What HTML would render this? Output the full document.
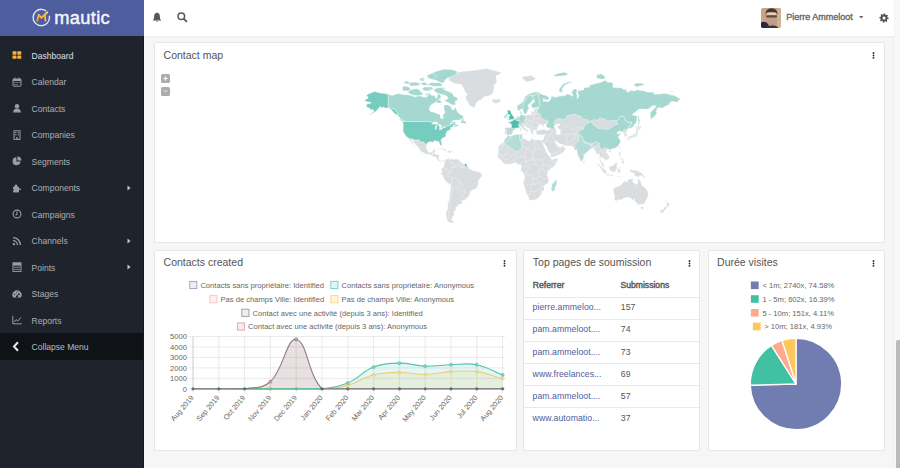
<!DOCTYPE html>
<html><head><meta charset="utf-8"><title>Mautic Dashboard</title><style>
*{margin:0;padding:0;box-sizing:border-box}
html,body{width:900px;height:468px;overflow:hidden;background:#f6f6f6}
body{position:relative;font-family:"Liberation Sans",sans-serif}
.t{position:absolute;white-space:nowrap;line-height:1}
.r{position:absolute}
svg{position:absolute;overflow:visible}
</style></head>
<body>
<div class="r" style="left:144px;top:0px;width:756px;height:468px;background:#f6f6f6;"></div>
<div class="r" style="left:893px;top:0px;width:7px;height:468px;background:#f8f8f8;"></div>
<div class="r" style="left:893px;top:0px;width:1px;height:468px;background:#efefef;"></div>
<div class="r" style="left:896px;top:340px;width:4px;height:128px;background:#bababa;border-radius:2px 0 0 0"></div>
<div class="r" style="left:144px;top:0px;width:750px;height:36px;background:#ffffff;box-shadow:0 1px 2px rgba(0,0,0,0.05)"></div>
<div class="r" style="left:154px;top:42px;width:731px;height:201px;background:#ffffff;border:1px solid #e6e6e6;border-radius:2px"></div>
<div class="r" style="left:154px;top:250px;width:363px;height:201px;background:#ffffff;border:1px solid #e6e6e6;border-radius:2px"></div>
<div class="r" style="left:523px;top:250px;width:177px;height:201px;background:#ffffff;border:1px solid #e6e6e6;border-radius:2px"></div>
<div class="r" style="left:708px;top:250px;width:177px;height:201px;background:#ffffff;border:1px solid #e6e6e6;border-radius:2px"></div>
<div class="r" style="left:0px;top:0px;width:144px;height:468px;background:#1f232b;"></div>
<div class="r" style="left:143px;top:36px;width:1px;height:432px;background:#14171c;"></div>
<div class="r" style="left:0px;top:0px;width:144px;height:36px;background:#4e5d9d;"></div>
<div class="r" style="left:0px;top:333px;width:143px;height:26.5px;background:#0f1216;"></div>
<svg style="left:0;top:0" width="144" height="36" viewBox="0 0 144 36">
<defs><linearGradient id="mg" x1="0" y1="1" x2="1" y2="0"><stop offset="0" stop-color="#f39c2c"/><stop offset="1" stop-color="#fcd45a"/></linearGradient></defs>
<circle cx="41.3" cy="17.5" r="8.2" fill="none" stroke="#e3e8f8" stroke-width="1.35" stroke-dasharray="43.2 5.9 2.4 0" transform="rotate(2 41.3 17.5)"/>
<path d="M37.3 20.9 L38.7 14.6 L41.3 17.9 L47.3 12.2" fill="none" stroke="url(#mg)" stroke-width="1.9" stroke-linejoin="round" stroke-linecap="round"/>
<path d="M44.7 15.2 L45.4 20.9" fill="none" stroke="url(#mg)" stroke-width="1.8" stroke-linecap="round"/>
</svg>
<div class="t" style="left:54.30px;top:8.61px;font-size:18.3px;color:#f4f5fb;letter-spacing:0.3px;-webkit-text-stroke:0.45px #f4f5fb;">mautic</div>
<div class="t" style="left:31.60px;top:51.66px;font-size:8.55px;color:#dfe1e4;">Dashboard</div>
<div class="t" style="left:31.60px;top:78.16px;font-size:8.55px;color:#abafb5;">Calendar</div>
<div class="t" style="left:31.60px;top:104.66px;font-size:8.55px;color:#abafb5;">Contacts</div>
<div class="t" style="left:31.60px;top:131.16px;font-size:8.55px;color:#abafb5;">Companies</div>
<div class="t" style="left:31.60px;top:157.66px;font-size:8.55px;color:#abafb5;">Segments</div>
<div class="t" style="left:31.60px;top:184.16px;font-size:8.55px;color:#abafb5;">Components</div>
<svg style="left:126px;top:184.7px" width="6" height="6"><path d="M1.5 0.6 L4.6 3 L1.5 5.4Z" fill="#c3c6cb"/></svg>
<div class="t" style="left:31.60px;top:210.66px;font-size:8.55px;color:#abafb5;">Campaigns</div>
<div class="t" style="left:31.60px;top:237.16px;font-size:8.55px;color:#abafb5;">Channels</div>
<svg style="left:126px;top:237.7px" width="6" height="6"><path d="M1.5 0.6 L4.6 3 L1.5 5.4Z" fill="#c3c6cb"/></svg>
<div class="t" style="left:31.60px;top:263.66px;font-size:8.55px;color:#abafb5;">Points</div>
<svg style="left:126px;top:264.2px" width="6" height="6"><path d="M1.5 0.6 L4.6 3 L1.5 5.4Z" fill="#c3c6cb"/></svg>
<div class="t" style="left:31.60px;top:290.16px;font-size:8.55px;color:#abafb5;">Stages</div>
<div class="t" style="left:31.60px;top:316.66px;font-size:8.55px;color:#abafb5;">Reports</div>
<div class="t" style="left:31.60px;top:342.66px;font-size:8.55px;color:#b9bdc2;">Collapse Menu</div>
<svg style="left:11.5px;top:50.2px" width="10" height="10" viewBox="0 0 10 10"><g fill="#f5b335"><rect x="0.5" y="1.3" width="4" height="3.4" rx="0.6"/><rect x="5.3" y="1.3" width="4" height="3.4" rx="0.6"/><rect x="0.5" y="5.4" width="4" height="3.4" rx="0.6"/><rect x="5.3" y="5.4" width="4" height="3.4" rx="0.6"/></g></svg>
<svg style="left:11.5px;top:76.7px" width="10" height="10" viewBox="0 0 10 10"><g fill="none" stroke="#999da4" stroke-width="1"><rect x="1" y="2" width="8" height="7.2" rx="0.8"/></g><rect x="1" y="2" width="8" height="2" fill="#999da4"/><g fill="#999da4"><rect x="2.4" y="0.6" width="1" height="2"/><rect x="6.6" y="0.6" width="1" height="2"/><rect x="2.3" y="5" width="1.2" height="1"/><rect x="4.4" y="5" width="1.2" height="1"/><rect x="6.5" y="5" width="1.2" height="1"/><rect x="2.3" y="7" width="1.2" height="1"/><rect x="4.4" y="7" width="1.2" height="1"/></g></svg>
<svg style="left:11.5px;top:103.2px" width="10" height="10" viewBox="0 0 10 10"><g fill="#999da4"><circle cx="5" cy="3.2" r="2.2"/><path d="M1.2 9.4 Q1.2 5.6 5 5.6 Q8.8 5.6 8.8 9.4Z"/></g></svg>
<svg style="left:11.5px;top:129.7px" width="10" height="10" viewBox="0 0 10 10"><g fill="none" stroke="#999da4" stroke-width="1"><rect x="2" y="0.8" width="6" height="8.6"/></g><g fill="#999da4"><rect x="3.2" y="2" width="1.2" height="1.2"/><rect x="5.6" y="2" width="1.2" height="1.2"/><rect x="3.2" y="4.2" width="1.2" height="1.2"/><rect x="5.6" y="4.2" width="1.2" height="1.2"/><rect x="4.3" y="7" width="1.4" height="2.4"/></g></svg>
<svg style="left:11.5px;top:156.2px" width="10" height="10" viewBox="0 0 10 10"><g fill="#999da4"><path d="M4.4 1.2 A4 4 0 1 0 8.6 5.6 L4.4 5.6Z"/><path d="M5.4 0.4 A4 4 0 0 1 9.4 4.4 L5.4 4.4Z"/></g></svg>
<svg style="left:11.5px;top:182.7px" width="10" height="10" viewBox="0 0 10 10"><g fill="#999da4"><rect x="1" y="4" width="6" height="5.4"/><circle cx="4" cy="3.2" r="1.6"/><rect x="7" y="5.6" width="2" height="1.2"/><rect x="0.2" y="6" width="1.5" height="1.5" fill="#1f232b"/></g></svg>
<svg style="left:11.5px;top:209.2px" width="10" height="10" viewBox="0 0 10 10"><g fill="none" stroke="#999da4" stroke-width="1.1"><circle cx="5" cy="5" r="3.9"/><path d="M5 2.6 V5.2 L3.6 6.4"/></g></svg>
<svg style="left:11.5px;top:235.7px" width="10" height="10" viewBox="0 0 10 10"><g fill="#999da4"><circle cx="1.9" cy="8.1" r="1.2"/></g><g fill="none" stroke="#999da4" stroke-width="1.3"><path d="M1 4.6 A4.4 4.4 0 0 1 5.4 9"/><path d="M1 1.6 A7.4 7.4 0 0 1 8.4 9"/></g></svg>
<svg style="left:11.5px;top:262.2px" width="10" height="10" viewBox="0 0 10 10"><g fill="none" stroke="#999da4" stroke-width="1"><rect x="1" y="0.8" width="8" height="8.6"/></g><rect x="1" y="0.8" width="8" height="2.8" fill="#999da4"/><g fill="#999da4"><rect x="2.2" y="4.6" width="1.4" height="1.2"/><rect x="4.3" y="4.6" width="1.4" height="1.2"/><rect x="6.4" y="4.6" width="1.4" height="1.2"/><rect x="2.2" y="6.8" width="1.4" height="1.2"/><rect x="4.3" y="6.8" width="1.4" height="1.2"/><rect x="6.4" y="6.8" width="1.4" height="1.2"/></g></svg>
<svg style="left:11.5px;top:288.7px" width="10" height="10" viewBox="0 0 10 10"><path d="M1.2 8.6 A4.6 4.6 0 1 1 8.8 8.6 Z" fill="#999da4"/><g fill="#1f232b"><circle cx="2.6" cy="5.4" r="0.6"/><circle cx="5" cy="3.1" r="0.6"/><circle cx="7.4" cy="5.4" r="0.6"/></g><path d="M5 7.6 L6.9 4.3" stroke="#1f232b" stroke-width="1"/><circle cx="5" cy="7.6" r="1.1" fill="#1f232b"/></svg>
<svg style="left:11.5px;top:315.2px" width="10" height="10" viewBox="0 0 10 10"><g fill="none" stroke="#999da4" stroke-width="1"><path d="M0.8 1 V8.8 H9.6"/><path d="M2 7.2 L4 4.6 L5.8 6 L8.8 2.4"/></g></svg>
<svg style="left:12px;top:340.5px" width="8" height="11" viewBox="0 0 8 11"><path d="M6 1.2 L2 5.5 L6 9.8" fill="none" stroke="#e8e9eb" stroke-width="2"/></svg>
<svg style="left:152px;top:11.5px" width="10" height="11" viewBox="0 0 10 11">
<path d="M5 0.8 C2.6 0.8 2.1 3 2.1 5 C2.1 7 1.2 8 0.6 8.6 H9.4 C8.8 8 7.9 7 7.9 5 C7.9 3 7.4 0.8 5 0.8Z" fill="#585858"/>
<path d="M3.9 9.2 A1.2 1.2 0 0 0 6.1 9.2Z" fill="#585858"/></svg>
<svg style="left:176.5px;top:12.2px" width="10.5" height="10.5" viewBox="0 0 10.5 10.5">
<circle cx="4.3" cy="4.3" r="3.3" fill="none" stroke="#585858" stroke-width="1.5"/>
<path d="M6.7 6.7 L9.4 9.4" stroke="#585858" stroke-width="1.8" stroke-linecap="round"/></svg>
<svg style="left:761px;top:7.5px" width="20" height="20" viewBox="0 0 20 20">
<defs><clipPath id="av"><rect width="20" height="20" rx="1.8"/></clipPath></defs>
<g clip-path="url(#av)">
<rect width="20" height="20" fill="#c6a588"/>
<rect x="16" y="0" width="4" height="20" fill="#cfb296"/>
<ellipse cx="10.5" cy="11.5" rx="5.8" ry="8" fill="#c99c88"/>
<path d="M4.5 7 Q4.2 0.5 10.5 0.3 Q16.8 0.5 16.5 7 L15.5 5.5 Q10.5 3.2 5.5 5.5Z" fill="#45372f"/>
<rect x="5.6" y="4.6" width="9.8" height="2.6" rx="1.2" fill="#e2d0bf"/>
<rect x="5.2" y="7.2" width="10.8" height="2.2" rx="0.8" fill="#5a493f"/>
<path d="M5.5 12 Q10.5 20 15.5 12 L15.5 17 L5.5 17Z" fill="#b39c90"/>
<path d="M0 14.5 Q4 12.5 7 16 L9 20 L0 20Z" fill="#2a2b30"/>
<path d="M6 18.5 Q12 16.5 17 19 L17 20 L6 20Z" fill="#3a3535"/>
</g></svg>
<div class="t" style="left:786.30px;top:13.18px;font-size:9px;color:#666;-webkit-text-stroke:0.35px #666;">Pierre Ammeloot</div>
<svg style="left:858.5px;top:16px" width="5" height="3"><path d="M0 0 H4.4 L2.2 2.6Z" fill="#666"/></svg>
<svg style="left:878.5px;top:12.8px" width="10" height="10" viewBox="0 0 10 10"><path d="M5.00 0.30 L5.92 0.39 L6.34 1.77 L6.94 2.09 L8.32 1.68 L8.91 2.39 L8.23 3.66 L8.43 4.32 L9.70 5.00 L9.61 5.92 L8.23 6.34 L7.91 6.94 L8.32 8.32 L7.61 8.91 L6.34 8.23 L5.68 8.43 L5.00 9.70 L4.08 9.61 L3.66 8.23 L3.06 7.91 L1.68 8.32 L1.09 7.61 L1.77 6.34 L1.57 5.68 L0.30 5.00 L0.39 4.08 L1.77 3.66 L2.09 3.06 L1.68 1.68 L2.39 1.09 L3.66 1.77 L4.32 1.57Z" fill="#555"/><circle cx="5" cy="5" r="1.5" fill="#fff"/></svg>
<svg style="left:871.8px;top:52.0px" width="3" height="7"><g fill="#333"><circle cx="1.5" cy="1" r="0.95"/><circle cx="1.5" cy="3.4" r="0.95"/><circle cx="1.5" cy="5.8" r="0.95"/></g></svg>
<svg style="left:503.2px;top:259.6px" width="3" height="7"><g fill="#333"><circle cx="1.5" cy="1" r="0.95"/><circle cx="1.5" cy="3.4" r="0.95"/><circle cx="1.5" cy="5.8" r="0.95"/></g></svg>
<svg style="left:687.9px;top:259.8px" width="3" height="7"><g fill="#333"><circle cx="1.5" cy="1" r="0.95"/><circle cx="1.5" cy="3.4" r="0.95"/><circle cx="1.5" cy="5.8" r="0.95"/></g></svg>
<svg style="left:872.3px;top:259.8px" width="3" height="7"><g fill="#333"><circle cx="1.5" cy="1" r="0.95"/><circle cx="1.5" cy="3.4" r="0.95"/><circle cx="1.5" cy="5.8" r="0.95"/></g></svg>
<div class="t" style="left:163.60px;top:49.51px;font-size:10.5px;color:#555;">Contact map</div>
<div class="t" style="left:163.60px;top:256.71px;font-size:10.5px;color:#555;">Contacts created</div>
<div class="t" style="left:532.80px;top:256.71px;font-size:10.5px;color:#555;">Top pages de soumission</div>
<div class="t" style="left:717.10px;top:256.71px;font-size:10.5px;color:#555;">Durée visites</div>
<div class="r" style="left:161px;top:74px;width:9px;height:9px;background:#acacac;border-radius:1.5px"></div>
<div class="r" style="left:161px;top:86.5px;width:9px;height:9px;background:#acacac;border-radius:1.5px"></div>
<svg style="left:161px;top:74px" width="9" height="22"><path d="M2.4 4.5 H6.6 M4.5 2.4 V6.6" stroke="#fff" stroke-width="1"/><path d="M2.4 17 H6.6" stroke="#e4e4e4" stroke-width="1"/></svg>
<svg style="left:0;top:0" width="900" height="468" viewBox="0 0 900 468"><path d="M507.8 135.4 L507.2 134.6 L506.2 134.2 L504.9 134.4 L505.0 132.6 L504.4 132.5 L505.1 130.5 L504.9 129.2 L504.5 127.9 L506.6 127.5 L509.2 127.7 L511.2 127.8 L511.6 126.5 L511.7 124.9 L510.8 123.6 L508.8 122.7 L508.6 122.1 L510.1 121.7 L511.3 121.9 L511.1 120.7 L511.9 121.0 L512.9 120.7 L514.2 119.3 L515.0 119.1 L515.7 118.7 L516.5 118.0 L517.0 116.8 L519.1 116.5 L520.3 116.1 L520.3 114.5 L519.9 113.8 L520.3 111.8 L522.1 111.0 L522.0 113.2 L521.6 114.4 L522.5 115.6 L524.2 115.1 L525.3 115.7 L527.3 115.0 L529.1 114.6 L530.1 115.1 L531.5 114.2 L531.3 112.2 L531.8 111.4 L532.7 110.9 L534.2 111.7 L533.9 110.3 L533.4 109.1 L535.3 108.6 L537.5 108.7 L539.4 108.2 L538.4 107.8 L537.3 107.4 L535.3 107.6 L533.0 108.2 L531.6 107.0 L531.6 104.1 L533.0 102.9 L534.5 101.7 L535.2 101.0 L534.0 100.0 L532.4 99.9 L531.6 101.5 L530.0 103.1 L528.2 104.9 L528.0 107.1 L529.2 108.7 L527.6 109.6 L527.3 111.3 L526.9 112.9 L525.4 113.7 L524.1 113.9 L524.0 112.9 L523.3 111.2 L522.7 109.2 L522.2 108.8 L521.1 109.3 L519.4 110.6 L518.0 110.4 L517.3 109.0 L517.2 105.4 L519.8 104.0 L522.0 102.6 L523.3 101.2 L524.2 99.0 L525.1 96.7 L526.9 95.2 L529.5 93.6 L533.1 92.7 L535.3 91.9 L537.9 92.0 L540.1 93.2 L541.9 94.6 L545.0 95.2 L548.5 97.0 L549.1 98.5 L548.1 99.4 L546.3 99.7 L543.7 99.1 L542.3 98.8 L543.5 99.9 L543.6 101.9 L545.6 101.0 L547.8 101.9 L548.5 101.5 L550.7 99.4 L551.6 96.0 L555.1 97.2 L559.5 96.3 L561.8 96.1 L564.0 95.4 L565.7 95.4 L566.6 94.0 L569.7 94.6 L571.9 95.8 L573.2 96.6 L572.8 94.4 L571.7 92.9 L572.1 91.2 L574.1 88.9 L575.9 89.1 L577.0 90.1 L576.3 93.6 L577.2 96.0 L576.8 99.0 L578.1 97.5 L579.0 95.2 L577.7 92.9 L578.5 89.1 L579.9 91.2 L582.1 89.9 L583.8 89.9 L584.1 87.7 L589.4 87.2 L589.7 85.3 L596.6 83.3 L600.2 82.6 L602.4 81.7 L604.8 80.4 L606.3 80.9 L607.7 82.6 L610.8 82.2 L613.0 83.2 L612.8 87.6 L616.9 87.7 L621.4 87.9 L624.4 89.8 L626.2 89.1 L626.7 92.0 L628.9 92.0 L629.7 90.6 L635.0 91.1 L636.4 89.8 L645.2 91.2 L647.4 92.2 L653.1 92.2 L654.5 94.3 L660.6 94.1 L663.3 93.5 L668.2 94.0 L671.7 95.2 L674.3 95.4 L677.0 97.0 L680.8 99.6 L678.3 100.4 L677.9 102.2 L675.2 102.0 L673.0 100.9 L672.6 101.7 L670.4 101.7 L669.0 104.7 L665.5 106.0 L662.9 108.0 L659.3 107.6 L657.1 108.2 L656.9 110.0 L655.8 110.9 L656.9 113.0 L655.6 114.8 L654.0 116.8 L652.7 117.7 L651.1 119.2 L650.5 116.8 L650.3 113.8 L651.2 111.3 L652.4 110.6 L654.0 109.0 L656.2 106.0 L654.5 105.6 L652.3 105.8 L648.7 108.7 L647.0 109.3 L643.4 109.0 L639.0 109.0 L636.8 110.8 L634.6 112.7 L632.1 114.6 L633.7 115.6 L635.5 115.4 L637.5 116.7 L636.8 118.6 L636.5 122.1 L635.0 123.7 L632.8 127.0 L630.2 128.3 L628.4 128.6 L627.3 130.2 L627.1 131.3 L625.8 132.3 L627.0 134.4 L627.0 135.9 L625.3 136.8 L624.3 136.8 L624.4 134.6 L624.1 133.7 L623.1 133.6 L622.9 133.1 L623.3 131.8 L622.5 131.4 L620.5 132.1 L619.8 132.5 L620.1 130.3 L617.8 132.1 L616.6 132.7 L617.6 134.0 L618.0 134.2 L619.4 133.6 L620.9 134.2 L619.1 135.4 L618.1 136.4 L619.4 138.9 L620.4 140.3 L620.0 141.0 L620.5 141.5 L620.0 142.9 L618.9 144.5 L618.3 145.7 L617.2 146.5 L615.6 148.0 L613.6 148.6 L611.6 149.1 L610.3 149.8 L610.1 150.4 L609.5 149.2 L608.1 149.3 L607.0 150.1 L606.1 151.6 L606.8 153.0 L608.8 154.9 L609.3 157.1 L609.0 158.4 L607.7 159.4 L606.8 160.2 L605.5 161.0 L605.3 159.6 L603.7 158.8 L603.3 158.0 L601.8 157.3 L601.5 156.6 L601.0 157.1 L600.3 159.5 L601.3 161.3 L601.5 162.2 L602.2 162.5 L603.0 163.1 L604.0 164.4 L604.1 166.1 L604.8 167.4 L604.1 167.5 L602.2 166.0 L601.3 163.7 L599.7 161.3 L599.5 159.3 L599.7 157.1 L599.0 153.9 L598.6 153.5 L597.0 154.6 L595.9 154.4 L596.3 152.1 L595.3 150.9 L594.2 150.1 L593.8 148.6 L592.7 148.1 L591.3 149.0 L589.6 149.3 L589.1 150.7 L587.8 151.3 L585.3 153.8 L583.7 154.4 L583.7 156.8 L583.3 159.4 L582.8 159.5 L581.8 160.7 L581.2 161.4 L580.3 160.7 L579.6 158.6 L578.8 157.1 L578.1 155.4 L577.6 154.4 L577.0 151.4 L577.0 149.8 L576.9 149.4 L575.0 149.9 L573.7 148.6 L574.8 148.0 L573.5 147.3 L572.3 147.1 L571.6 145.7 L569.7 145.9 L567.0 146.0 L564.4 145.5 L563.3 145.3 L562.5 144.0 L561.0 144.6 L559.1 143.6 L558.2 143.3 L557.0 141.1 L555.9 141.0 L555.1 141.4 L555.8 143.5 L557.0 144.5 L557.4 146.1 L558.3 146.8 L559.2 146.8 L560.6 146.9 L562.2 146.2 L562.5 144.7 L563.4 147.1 L564.6 147.4 L565.5 148.4 L564.5 150.3 L563.7 151.7 L562.5 152.6 L561.6 153.3 L558.8 154.7 L556.5 155.6 L552.5 157.3 L551.2 157.4 L550.4 154.6 L550.5 153.8 L549.1 151.9 L547.4 149.3 L547.2 148.3 L546.7 147.0 L545.4 145.2 L543.8 143.1 L543.3 143.1 L542.9 143.4 L542.1 142.6 L541.5 141.4 L541.3 140.0 L542.9 140.0 L543.6 138.6 L544.1 137.5 L544.4 135.9 L544.6 134.5 L543.4 134.6 L541.4 135.3 L539.8 134.7 L539.0 135.3 L537.1 134.7 L536.0 133.1 L536.4 131.8 L535.9 131.2 L536.2 130.7 L538.4 130.1 L540.2 130.1 L542.3 129.2 L543.8 129.2 L546.6 130.3 L548.4 130.2 L549.5 129.7 L549.4 128.5 L548.1 127.7 L546.5 126.6 L545.9 126.3 L546.5 124.6 L547.4 123.6 L546.3 123.7 L543.7 124.5 L543.7 125.3 L545.0 125.4 L543.8 126.1 L542.3 126.5 L541.4 125.5 L542.4 124.9 L540.7 124.1 L539.9 124.3 L538.9 125.5 L538.1 126.8 L537.5 128.1 L537.2 129.2 L537.5 129.6 L538.4 130.0 L536.2 130.3 L535.8 130.4 L533.9 130.3 L533.1 131.0 L532.7 131.1 L533.3 132.1 L533.9 133.1 L533.1 133.4 L532.9 134.9 L531.9 134.5 L531.4 133.4 L531.7 132.4 L530.6 131.7 L529.9 130.8 L530.0 129.4 L529.1 128.6 L527.3 127.7 L526.2 126.7 L525.0 126.2 L524.8 125.2 L523.6 125.5 L523.9 127.0 L524.8 127.6 L525.5 129.0 L527.1 129.5 L529.1 131.2 L527.8 130.8 L527.3 131.9 L527.9 132.4 L527.0 133.3 L526.5 133.1 L527.1 131.8 L526.3 131.1 L525.4 130.4 L523.8 129.7 L522.5 128.8 L522.0 128.1 L521.8 127.1 L520.5 126.6 L519.4 127.3 L518.2 128.0 L516.7 127.7 L515.5 128.0 L515.6 129.3 L513.5 130.2 L512.5 131.8 L512.9 132.5 L512.1 133.8 L510.8 134.7 L508.9 134.7Z" fill="#dadde0" stroke="#ffffff" stroke-width="0.35" stroke-linejoin="round"/><path d="M541.3 140.0 L539.1 140.0 L534.9 139.7 L533.2 139.2 L531.7 138.6 L530.5 139.2 L530.0 141.0 L528.6 140.5 L526.4 139.7 L526.2 139.1 L524.2 138.5 L522.9 138.3 L521.8 137.6 L522.4 136.2 L522.0 134.9 L522.5 134.3 L521.6 134.1 L520.2 134.5 L517.2 134.6 L515.4 134.6 L511.9 136.0 L510.8 136.3 L508.3 135.6 L507.5 135.6 L507.0 137.4 L505.2 138.2 L504.2 140.8 L504.1 141.7 L502.3 143.2 L501.3 143.7 L499.9 145.0 L498.8 147.0 L497.7 149.8 L498.3 151.2 L498.4 153.0 L498.2 154.4 L497.3 155.5 L498.0 156.6 L497.9 157.6 L499.1 158.4 L499.9 159.3 L501.1 160.2 L502.1 161.7 L503.5 162.9 L506.1 164.7 L508.3 164.1 L511.0 164.4 L513.6 163.3 L515.1 163.0 L516.7 163.0 L518.0 164.8 L519.4 164.6 L520.3 164.6 L521.1 165.2 L521.4 166.4 L521.0 167.7 L521.0 169.0 L520.5 169.5 L521.4 171.2 L522.5 172.0 L523.3 173.0 L523.6 174.0 L524.4 176.1 L524.8 178.4 L523.8 180.6 L523.2 183.6 L523.5 184.7 L525.3 188.8 L525.5 190.2 L526.2 193.0 L527.3 194.6 L528.2 196.6 L528.8 198.2 L529.0 199.9 L530.1 200.6 L532.2 199.9 L535.3 199.8 L537.0 199.0 L539.2 197.2 L540.4 195.3 L541.4 194.5 L541.8 192.3 L541.5 191.8 L543.7 190.7 L544.1 188.3 L543.9 187.7 L543.4 186.3 L544.8 185.3 L547.5 183.5 L548.7 181.7 L548.5 178.2 L547.5 176.1 L547.0 174.3 L547.6 172.8 L548.3 170.9 L549.5 170.1 L551.2 168.2 L553.4 166.6 L554.9 164.9 L555.9 163.4 L556.7 161.7 L557.6 160.2 L558.0 158.1 L555.9 158.5 L554.0 159.0 L552.1 159.4 L551.2 158.7 L550.5 157.5 L549.1 155.7 L547.9 154.9 L547.1 153.0 L545.9 152.0 L545.6 149.8 L545.2 148.9 L544.2 147.1 L543.3 144.6 L542.7 143.9 L541.5 141.4Z" fill="#dadde0" stroke="#ffffff" stroke-width="0.35" stroke-linejoin="round"/><path d="M444.4 160.9 L445.6 160.2 L446.1 159.2 L447.2 158.7 L449.0 158.0 L449.8 158.3 L449.5 159.3 L450.0 160.1 L450.9 158.4 L452.5 159.2 L454.5 159.2 L456.2 159.2 L458.0 159.1 L458.9 159.9 L459.8 161.1 L461.1 162.1 L462.2 163.3 L463.4 163.5 L465.1 163.5 L466.8 164.4 L467.5 165.1 L468.6 167.0 L468.6 168.3 L469.9 169.5 L471.7 169.5 L473.5 170.8 L476.1 171.2 L478.8 171.9 L481.7 173.5 L482.0 175.2 L481.4 177.0 L480.1 178.4 L478.4 180.6 L478.3 184.2 L477.4 186.5 L476.5 188.3 L475.2 189.3 L473.3 189.5 L471.2 190.7 L469.9 192.1 L469.7 194.5 L468.3 196.7 L466.7 198.0 L465.6 199.5 L464.3 200.7 L462.9 200.6 L461.7 200.2 L461.2 199.8 L462.2 201.3 L462.6 202.3 L461.8 204.1 L458.0 204.8 L457.7 206.8 L455.4 207.0 L456.4 208.1 L455.8 208.9 L455.1 211.2 L453.3 212.3 L454.6 214.3 L452.9 216.4 L451.8 217.8 L452.3 219.5 L451.4 219.9 L452.4 220.4 L452.9 221.6 L455.1 222.6 L452.3 223.0 L450.1 222.8 L447.8 221.0 L446.8 219.5 L446.1 215.7 L446.0 212.9 L447.4 209.6 L447.8 207.5 L447.8 203.9 L448.7 201.3 L449.6 197.9 L449.7 194.5 L450.5 189.7 L450.8 185.0 L449.2 184.0 L445.6 181.2 L444.1 178.8 L442.4 175.0 L441.0 173.8 L441.7 171.5 L442.0 170.5 L441.3 169.5 L442.1 167.9 L443.1 167.2 L444.3 165.1 L444.5 162.9 L444.0 162.2Z" fill="#dadde0" stroke="#ffffff" stroke-width="0.35" stroke-linejoin="round"/><path d="M613.0 188.3 L613.6 192.4 L614.3 195.4 L614.9 197.8 L614.3 199.4 L615.2 200.8 L616.9 200.8 L618.7 199.7 L621.8 199.7 L624.0 198.1 L626.7 197.6 L628.7 197.4 L631.1 198.6 L632.5 200.7 L633.5 198.9 L634.4 198.4 L634.2 200.2 L635.0 201.3 L636.0 201.9 L636.9 203.9 L639.5 204.7 L640.7 203.8 L641.9 205.0 L643.4 203.6 L645.1 203.3 L645.3 201.8 L646.3 199.6 L647.7 197.4 L648.4 194.5 L647.9 192.1 L647.4 190.9 L645.9 188.9 L644.7 187.7 L643.9 186.5 L641.9 185.5 L641.1 183.2 L641.0 181.9 L639.5 180.0 L638.6 178.1 L637.8 179.8 L637.9 181.9 L637.3 183.8 L636.5 184.4 L635.5 183.9 L634.0 182.7 L632.4 181.7 L633.5 179.4 L633.1 179.0 L630.2 178.7 L628.4 179.4 L627.5 180.3 L627.1 181.9 L626.0 181.9 L624.9 180.9 L623.7 181.3 L622.7 183.1 L621.8 184.2 L620.6 184.8 L619.6 186.1 L617.8 186.5 L616.3 187.1 L613.9 188.2Z" fill="#dadde0" stroke="#ffffff" stroke-width="0.35" stroke-linejoin="round"/><path d="M640.4 206.7 L643.7 206.9 L643.4 209.3 L642.1 209.7 L641.0 208.2Z" fill="#dadde0" stroke="#ffffff" stroke-width="0.35" stroke-linejoin="round"/><path d="M665.2 200.2 L666.8 201.1 L668.1 203.1 L670.4 203.5 L669.0 205.1 L668.9 206.2 L667.5 207.6 L666.9 207.3 L667.4 206.1 L666.2 205.1 L666.9 204.7 L666.8 202.8Z" fill="#dadde0" stroke="#ffffff" stroke-width="0.35" stroke-linejoin="round"/><path d="M665.2 206.4 L666.7 207.3 L665.9 209.0 L665.2 209.9 L664.0 210.6 L663.5 212.2 L662.2 213.0 L659.8 212.3 L660.0 211.5 L661.4 210.2 L663.4 209.1 L664.6 207.5Z" fill="#dadde0" stroke="#ffffff" stroke-width="0.35" stroke-linejoin="round"/><path d="M448.3 78.8 L453.6 74.9 L459.8 71.7 L473.0 70.4 L486.3 68.4 L494.2 70.4 L502.1 72.8 L496.0 75.9 L496.9 81.7 L494.2 85.3 L493.8 89.6 L492.9 92.9 L490.7 95.2 L484.5 96.7 L480.1 100.3 L477.0 101.7 L475.2 106.0 L473.9 108.0 L472.1 107.0 L469.9 106.0 L468.2 102.6 L466.4 99.7 L465.5 96.0 L467.7 94.4 L465.1 92.0 L464.2 89.6 L461.5 84.4 L454.5 83.5 L449.2 80.7Z" fill="#dadde0" stroke="#ffffff" stroke-width="0.35" stroke-linejoin="round"/><path d="M491.3 100.3 L493.3 99.1 L496.1 99.4 L498.4 99.0 L499.9 99.1 L500.7 101.0 L499.6 102.0 L496.2 103.4 L493.5 102.7 L492.7 101.2Z" fill="#dadde0" stroke="#ffffff" stroke-width="0.35" stroke-linejoin="round"/><path d="M522.5 78.8 L526.9 82.1 L532.2 80.7 L536.1 78.8 L531.3 75.3 L527.8 75.9 L522.5 76.5Z" fill="#dadde0" stroke="#ffffff" stroke-width="0.35" stroke-linejoin="round"/><path d="M409.3 138.9 L410.1 140.3 L410.6 141.6 L411.9 143.2 L413.0 144.6 L413.8 146.1 L415.6 148.0 L416.1 147.5 L415.1 146.7 L414.3 145.3 L413.6 143.7 L412.9 142.3 L411.6 140.4 L411.5 139.7 L412.8 140.0 L413.6 142.1 L414.9 143.7 L416.1 145.3 L417.4 146.5 L418.8 147.9 L419.4 148.4 L419.8 150.2 L420.7 151.4 L423.1 152.6 L424.9 153.7 L426.7 154.4 L428.0 154.6 L429.3 154.2 L431.3 155.7 L431.3 155.3 L431.8 154.3 L432.8 154.3 L432.0 153.3 L434.1 152.7 L434.8 152.1 L435.3 150.6 L435.9 149.3 L434.6 149.3 L433.0 149.8 L432.8 151.2 L432.0 152.1 L431.1 152.0 L429.3 152.4 L428.0 151.3 L426.9 149.8 L426.5 148.4 L426.5 146.5 L426.9 145.2 L424.9 143.7 L423.2 141.5 L421.8 142.3 L420.5 141.7 L418.7 139.5 L417.2 140.0 L414.7 140.0 L411.5 138.7Z" fill="#dadde0" stroke="#ffffff" stroke-width="0.35" stroke-linejoin="round"/><path d="M431.3 155.7 L432.4 156.2 L433.7 156.6 L435.2 156.9 L435.7 157.1 L436.4 158.0 L437.1 158.8 L437.0 159.6 L437.7 160.1 L438.9 161.1 L439.9 161.5 L441.2 161.7 L442.1 162.1 L441.8 161.3 L442.5 160.7 L443.4 161.3 L444.0 162.2 L444.6 161.6 L444.4 160.9 L443.5 160.3 L442.5 160.1 L441.2 160.8 L440.2 160.5 L439.1 159.4 L438.8 158.4 L438.9 157.1 L439.1 155.3 L438.1 154.4 L436.8 154.4 L435.0 154.5 L434.8 153.9 L434.8 152.1 L434.1 152.7 L432.0 153.3 L432.8 154.3 L431.8 154.3 L431.3 155.3Z" fill="#dadde0" stroke="#ffffff" stroke-width="0.35" stroke-linejoin="round"/><path d="M437.8 149.0 L439.5 148.0 L440.8 147.8 L442.1 147.9 L443.9 148.6 L446.0 149.6 L447.2 150.5 L446.0 150.8 L444.3 150.8 L444.6 150.2 L443.4 149.3 L441.7 148.9 L440.3 148.5 L439.1 148.7Z" fill="#dadde0" stroke="#ffffff" stroke-width="0.35" stroke-linejoin="round"/><path d="M447.1 152.2 L448.5 150.8 L450.9 151.0 L452.3 152.0 L451.0 152.3 L449.7 152.9 L448.5 152.4Z" fill="#dadde0" stroke="#ffffff" stroke-width="0.35" stroke-linejoin="round"/><path d="M443.6 152.2 L445.4 152.4 L444.8 152.7 L443.9 152.4Z" fill="#dadde0" stroke="#ffffff" stroke-width="0.35" stroke-linejoin="round"/><path d="M453.4 152.1 L454.8 152.3 L454.6 152.6 L453.4 152.5Z" fill="#dadde0" stroke="#ffffff" stroke-width="0.35" stroke-linejoin="round"/><path d="M596.9 163.6 L598.8 164.0 L601.3 166.7 L604.3 169.5 L606.3 171.3 L606.3 173.8 L605.0 173.8 L603.1 172.1 L601.5 169.5 L599.9 167.1Z" fill="#dadde0" stroke="#ffffff" stroke-width="0.35" stroke-linejoin="round"/><path d="M605.6 174.6 L606.4 173.9 L608.4 174.1 L610.3 174.7 L612.2 174.7 L613.8 175.5 L613.8 176.3 L610.3 175.8 L606.8 175.1Z" fill="#dadde0" stroke="#ffffff" stroke-width="0.35" stroke-linejoin="round"/><path d="M609.0 167.3 L609.5 166.8 L610.9 166.2 L612.5 165.9 L614.7 163.8 L615.9 162.5 L618.0 163.8 L616.9 164.8 L616.8 167.6 L617.8 167.8 L616.5 169.3 L615.6 170.5 L615.2 171.9 L613.9 172.0 L611.4 171.3 L610.1 171.2 L610.0 170.0 L609.1 168.6Z" fill="#dadde0" stroke="#ffffff" stroke-width="0.35" stroke-linejoin="round"/><path d="M618.3 173.5 L619.1 173.5 L619.1 171.1 L620.0 172.8 L621.4 172.9 L620.0 170.3 L621.6 169.5 L619.8 169.4 L618.8 168.2 L622.7 167.5 L623.3 167.3 L619.4 167.4 L618.5 168.5 L617.6 171.0Z" fill="#dadde0" stroke="#ffffff" stroke-width="0.35" stroke-linejoin="round"/><path d="M628.4 169.7 L631.2 169.4 L633.3 170.5 L634.6 170.0 L637.2 170.9 L640.3 172.0 L641.7 173.5 L643.0 173.9 L643.3 175.7 L645.9 177.7 L644.3 177.7 L642.1 176.5 L639.9 175.3 L639.0 176.7 L637.2 176.7 L635.5 175.8 L634.6 176.0 L634.2 173.1 L632.1 172.5 L630.6 172.0 L630.0 172.2 L629.3 171.1 L630.9 170.7 L629.7 170.3Z" fill="#dadde0" stroke="#ffffff" stroke-width="0.35" stroke-linejoin="round"/><path d="M619.2 152.1 L620.6 152.1 L620.8 153.4 L620.1 154.4 L620.2 156.0 L622.2 157.1 L621.8 157.5 L619.2 156.2 L618.7 154.2Z" fill="#dadde0" stroke="#ffffff" stroke-width="0.35" stroke-linejoin="round"/><path d="M620.5 162.4 L621.9 161.7 L623.5 159.9 L624.4 162.1 L624.2 163.0 L623.5 163.6 L622.2 163.1Z" fill="#dadde0" stroke="#ffffff" stroke-width="0.35" stroke-linejoin="round"/><path d="M620.5 158.1 L621.8 159.3 L623.1 158.4 L623.6 159.7 L622.2 160.2 L620.9 160.2 L620.4 159.3Z" fill="#dadde0" stroke="#ffffff" stroke-width="0.35" stroke-linejoin="round"/><path d="M622.2 177.5 L623.3 176.6 L625.2 176.0 L623.2 177.0Z" fill="#dadde0" stroke="#ffffff" stroke-width="0.35" stroke-linejoin="round"/><path d="M614.3 176.4 L617.8 176.1 L621.2 175.9 L621.2 176.4 L617.8 176.5 L614.7 176.5Z" fill="#dadde0" stroke="#ffffff" stroke-width="0.35" stroke-linejoin="round"/><path d="M583.2 163.2 L583.2 161.1 L583.6 159.9 L585.0 162.0 L584.4 163.1Z" fill="#dadde0" stroke="#ffffff" stroke-width="0.35" stroke-linejoin="round"/><path d="M619.6 145.8 L620.4 146.4 L619.4 149.0 L618.8 147.9Z" fill="#dadde0" stroke="#ffffff" stroke-width="0.35" stroke-linejoin="round"/><path d="M523.7 133.4 L526.5 133.0 L526.1 134.7Z" fill="#dadde0" stroke="#ffffff" stroke-width="0.35" stroke-linejoin="round"/><path d="M520.2 132.3 L521.2 132.2 L521.4 130.2 L520.0 130.3Z" fill="#dadde0" stroke="#ffffff" stroke-width="0.35" stroke-linejoin="round"/><path d="M533.5 135.9 L536.0 136.1 L535.7 136.4 L533.9 136.2Z" fill="#dadde0" stroke="#ffffff" stroke-width="0.35" stroke-linejoin="round"/><path d="M541.3 136.7 L543.3 135.8 L542.7 136.5 L541.9 136.8Z" fill="#dadde0" stroke="#ffffff" stroke-width="0.35" stroke-linejoin="round"/><path d="M505.1 143.5 L505.1 145.1 L502.1 145.1 L502.1 147.5 L501.3 149.5 L497.7 149.5 L497.7 149.8 L498.8 147.0 L499.9 145.0 L501.3 143.6Z" fill="#dadde0" stroke="#ffffff" stroke-width="0.35" stroke-linejoin="round"/><path d="M554.0 126.5 L554.7 125.3 L556.2 124.4 L558.0 123.7 L559.5 124.0 L559.7 125.6 L558.0 125.6 L557.2 126.7 L558.0 127.9 L559.3 128.9 L559.5 130.2 L560.4 130.3 L560.3 132.4 L560.3 134.1 L558.0 134.7 L556.2 133.8 L556.5 131.1 L555.6 129.4 L554.7 128.1Z" fill="#ffffff" stroke="#ffffff" stroke-width="0.3" stroke-linejoin="round"/><path d="M467.2 164.9 L466.0 166.7 L465.0 166.7 L463.3 166.9 L461.5 167.3 L460.0 167.0 L459.1 164.0 L457.3 165.1 L455.8 165.0 L456.2 166.4 L453.7 167.5 L451.4 167.6 L451.1 172.3 L448.4 173.0 L447.6 175.1 L448.7 177.0 L450.5 177.0 L451.3 178.4 L455.1 177.3 L456.9 179.7 L459.3 180.9 L459.8 183.1 L461.3 183.1 L461.8 185.6 L461.4 186.7 L463.7 188.9 L464.7 190.3 L464.5 191.7 L465.2 193.1 L463.6 194.2 L461.9 196.1 L463.3 196.9 L465.6 199.5" fill="none" stroke="#ffffff" stroke-width="0.4" stroke-opacity="0.7"/><path d="M449.3 158.4 L448.8 161.3 L450.9 162.4 L453.1 163.1 L452.9 164.8 L453.3 166.8 L453.7 167.5" fill="none" stroke="#ffffff" stroke-width="0.4" stroke-opacity="0.7"/><path d="M459.8 161.1 L459.1 164.0" fill="none" stroke="#ffffff" stroke-width="0.4" stroke-opacity="0.7"/><path d="M462.3 163.3 L462.9 166.9" fill="none" stroke="#ffffff" stroke-width="0.4" stroke-opacity="0.7"/><path d="M443.0 167.4 L444.8 168.2 L446.3 168.7 L447.8 169.8 L450.9 172.3" fill="none" stroke="#ffffff" stroke-width="0.4" stroke-opacity="0.7"/><path d="M441.8 171.6 L442.5 172.6 L443.9 171.3 L446.3 168.7" fill="none" stroke="#ffffff" stroke-width="0.4" stroke-opacity="0.7"/><path d="M451.3 178.4 L452.1 179.7 L451.7 182.8 L451.4 184.2 L450.6 185.0" fill="none" stroke="#ffffff" stroke-width="0.4" stroke-opacity="0.7"/><path d="M451.4 184.2 L452.3 186.0 L452.5 187.9 L453.4 189.1 L455.4 188.4 L457.5 188.5 L458.2 186.1 L461.4 186.3" fill="none" stroke="#ffffff" stroke-width="0.4" stroke-opacity="0.7"/><path d="M453.4 189.1 L452.5 190.7 L452.3 193.0 L451.2 195.9 L450.8 199.3 L450.5 201.8 L449.9 205.4 L449.5 209.1 L449.3 211.8 L448.8 214.6 L448.1 217.1 L449.2 219.0 L452.3 219.5" fill="none" stroke="#ffffff" stroke-width="0.4" stroke-opacity="0.7"/><path d="M457.5 188.5 L459.8 190.2 L461.9 191.6 L464.5 191.7" fill="none" stroke="#ffffff" stroke-width="0.4" stroke-opacity="0.7"/><path d="M461.9 196.1 L461.2 199.3" fill="none" stroke="#ffffff" stroke-width="0.4" stroke-opacity="0.7"/><path d="M534.9 139.7 L534.8 148.9 L545.3 148.9" fill="none" stroke="#ffffff" stroke-width="0.4" stroke-opacity="0.7"/><path d="M534.8 148.9 L534.8 150.7 L533.9 151.2 L526.4 147.9 L523.3 147.5" fill="none" stroke="#ffffff" stroke-width="0.4" stroke-opacity="0.7"/><path d="M533.9 151.2 L532.2 154.8 L533.5 159.7 L532.6 160.6" fill="none" stroke="#ffffff" stroke-width="0.4" stroke-opacity="0.7"/><path d="M508.5 146.1 L507.4 149.5 L507.9 154.8 L502.6 154.8 L502.0 155.4 L498.2 154.3" fill="none" stroke="#ffffff" stroke-width="0.4" stroke-opacity="0.7"/><path d="M516.5 151.4 L515.8 154.8 L513.6 155.3 L512.3 155.3 L511.0 155.4 L507.9 159.5 L505.7 159.6 L502.6 157.6 L502.0 155.4" fill="none" stroke="#ffffff" stroke-width="0.4" stroke-opacity="0.7"/><path d="M502.6 157.6 L500.6 157.7 L498.0 157.6" fill="none" stroke="#ffffff" stroke-width="0.4" stroke-opacity="0.7"/><path d="M526.4 147.9 L526.4 150.2 L524.7 156.2 L525.1 157.1 L521.6 156.8 L518.9 157.1 L515.9 158.2 L515.1 160.6 L515.1 163.0" fill="none" stroke="#ffffff" stroke-width="0.4" stroke-opacity="0.7"/><path d="M525.1 157.1 L525.6 159.7 L524.7 162.4 L523.8 161.5 L522.5 162.9 L520.3 164.5" fill="none" stroke="#ffffff" stroke-width="0.4" stroke-opacity="0.7"/><path d="M525.6 159.7 L526.4 160.6 L526.4 162.0 L526.9 166.8 L524.5 166.7 L522.7 166.7 L521.4 166.6" fill="none" stroke="#ffffff" stroke-width="0.4" stroke-opacity="0.7"/><path d="M526.4 162.0 L529.1 160.6 L532.2 159.3 L532.6 160.6 L533.9 161.3 L536.9 164.0" fill="none" stroke="#ffffff" stroke-width="0.4" stroke-opacity="0.7"/><path d="M523.6 173.9 L526.9 173.9 L527.3 175.7 L529.5 175.7 L532.0 175.1 L532.2 178.4 L533.9 178.4 L537.0 179.2 L538.4 180.4 L537.9 176.6 L539.9 175.9 L538.6 172.6 L539.0 169.9 L539.9 167.7 L540.3 166.7 L539.7 165.2 L537.0 164.2 L534.8 163.9 L532.6 164.6 L530.0 164.0 L529.1 165.5 L528.3 169.0 L527.3 169.9 L525.5 172.6 L523.6 173.9" fill="none" stroke="#ffffff" stroke-width="0.4" stroke-opacity="0.7"/><path d="M523.2 184.0 L530.4 184.6 L533.3 184.2 L535.0 184.5" fill="none" stroke="#ffffff" stroke-width="0.4" stroke-opacity="0.7"/><path d="M527.3 194.6 L530.4 194.4 L530.4 191.0 L530.4 188.3 L531.3 184.9" fill="none" stroke="#ffffff" stroke-width="0.4" stroke-opacity="0.7"/><path d="M530.4 191.0 L535.3 191.6 L536.6 189.9 L540.4 188.7 L541.0 192.1" fill="none" stroke="#ffffff" stroke-width="0.4" stroke-opacity="0.7"/><path d="M535.0 184.5 L537.5 182.8 L539.6 182.5 L541.9 183.8 L541.7 187.4 L540.4 188.7" fill="none" stroke="#ffffff" stroke-width="0.4" stroke-opacity="0.7"/><path d="M533.9 178.4 L533.9 180.1 L532.2 180.1 L532.2 183.3 L533.3 184.2" fill="none" stroke="#ffffff" stroke-width="0.4" stroke-opacity="0.7"/><path d="M547.4 172.8 L542.7 169.5 L539.2 169.5" fill="none" stroke="#ffffff" stroke-width="0.4" stroke-opacity="0.7"/><path d="M548.5 177.9 L543.7 178.8 L542.1 177.0 L541.6 176.7 L539.9 175.9" fill="none" stroke="#ffffff" stroke-width="0.4" stroke-opacity="0.7"/><path d="M550.5 157.5 L550.7 158.8 L551.6 160.6 L555.0 161.5 L552.5 164.2 L549.7 165.1 L548.9 170.1" fill="none" stroke="#ffffff" stroke-width="0.4" stroke-opacity="0.7"/><path d="M545.1 155.9 L543.9 158.8 L542.9 161.1 L541.9 162.0 L544.4 164.5 L547.2 165.5 L549.7 165.1" fill="none" stroke="#ffffff" stroke-width="0.4" stroke-opacity="0.7"/><path d="M533.5 159.7 L536.6 160.2 L542.1 159.6 L542.9 160.2" fill="none" stroke="#ffffff" stroke-width="0.4" stroke-opacity="0.7"/><path d="M542.7 169.5 L542.8 164.9 L544.4 164.5" fill="none" stroke="#ffffff" stroke-width="0.4" stroke-opacity="0.7"/><path d="M505.7 159.6 L506.1 164.7" fill="none" stroke="#ffffff" stroke-width="0.4" stroke-opacity="0.7"/><path d="M510.4 160.0 L510.1 164.2" fill="none" stroke="#ffffff" stroke-width="0.4" stroke-opacity="0.7"/><path d="M512.7 158.8 L513.6 163.3" fill="none" stroke="#ffffff" stroke-width="0.4" stroke-opacity="0.7"/><path d="M535.7 130.4 L536.2 129.5 L537.5 129.2" fill="none" stroke="#ffffff" stroke-width="0.4" stroke-opacity="0.7"/><path d="M549.4 129.7 L551.2 130.1 L552.3 131.6 L551.9 134.2 L550.1 134.3 L546.3 134.6 L544.5 134.9" fill="none" stroke="#ffffff" stroke-width="0.4" stroke-opacity="0.7"/><path d="M550.1 134.3 L549.1 136.9 L547.0 138.0 L545.3 139.1" fill="none" stroke="#ffffff" stroke-width="0.4" stroke-opacity="0.7"/><path d="M547.2 139.3 L545.4 141.8 L543.7 141.9" fill="none" stroke="#ffffff" stroke-width="0.4" stroke-opacity="0.7"/><path d="M547.2 139.3 L552.2 142.1 L554.8 142.1" fill="none" stroke="#ffffff" stroke-width="0.4" stroke-opacity="0.7"/><path d="M551.9 134.2 L552.9 135.9 L553.5 138.4 L554.9 140.3 L555.6 141.4" fill="none" stroke="#ffffff" stroke-width="0.4" stroke-opacity="0.7"/><path d="M566.8 134.8 L566.4 137.0 L566.6 139.8 L567.5 141.9 L567.0 146.0" fill="none" stroke="#ffffff" stroke-width="0.4" stroke-opacity="0.7"/><path d="M560.3 134.1 L562.2 133.3 L566.8 134.8" fill="none" stroke="#ffffff" stroke-width="0.4" stroke-opacity="0.7"/><path d="M566.6 141.9 L571.5 141.4 L573.9 139.4 L575.2 137.4 L575.9 134.9 L578.8 134.1" fill="none" stroke="#ffffff" stroke-width="0.4" stroke-opacity="0.7"/><path d="M566.8 134.8 L570.1 134.1 L572.6 134.2 L574.6 133.8 L575.9 134.9" fill="none" stroke="#ffffff" stroke-width="0.4" stroke-opacity="0.7"/><path d="M559.5 129.1 L562.2 129.9 L564.4 125.4 L566.6 126.6 L569.7 127.5 L571.5 129.2 L573.7 129.7 L575.4 128.3 L578.1 127.8 L583.6 128.1" fill="none" stroke="#ffffff" stroke-width="0.4" stroke-opacity="0.7"/><path d="M574.6 133.8 L575.4 131.8 L577.9 131.8" fill="none" stroke="#ffffff" stroke-width="0.4" stroke-opacity="0.7"/><path d="M550.4 154.0 L553.8 153.3 L558.7 151.6 L561.8 148.9 L561.6 146.4" fill="none" stroke="#ffffff" stroke-width="0.4" stroke-opacity="0.7"/><path d="M558.3 146.8 L558.7 147.9 L561.8 148.9" fill="none" stroke="#ffffff" stroke-width="0.4" stroke-opacity="0.7"/><path d="M530.1 115.1 L533.5 115.6 L533.6 117.7 L533.9 119.5 L532.7 121.4 L529.5 121.0 L527.7 119.9 L526.0 119.1" fill="none" stroke="#ffffff" stroke-width="0.4" stroke-opacity="0.7"/><path d="M524.9 121.7 L526.0 121.5 L527.8 121.9 L529.3 120.9 L532.7 121.4" fill="none" stroke="#ffffff" stroke-width="0.4" stroke-opacity="0.7"/><path d="M522.0 124.2 L523.7 123.6 L524.8 124.3 L527.0 124.0 L527.8 122.6" fill="none" stroke="#ffffff" stroke-width="0.4" stroke-opacity="0.7"/><path d="M527.0 124.0 L529.3 125.0 L531.3 124.6 L533.0 122.7 L532.7 121.4" fill="none" stroke="#ffffff" stroke-width="0.4" stroke-opacity="0.7"/><path d="M533.0 122.7 L536.2 122.4 L537.6 123.9 L537.6 125.4 L538.9 125.5" fill="none" stroke="#ffffff" stroke-width="0.4" stroke-opacity="0.7"/><path d="M532.8 126.8 L534.8 127.4 L537.5 127.3" fill="none" stroke="#ffffff" stroke-width="0.4" stroke-opacity="0.7"/><path d="M531.3 124.6 L532.8 126.8 L532.5 128.9 L533.0 129.9 L535.8 129.7" fill="none" stroke="#ffffff" stroke-width="0.4" stroke-opacity="0.7"/><path d="M524.8 124.3 L526.4 125.4 L529.5 126.0 L529.9 127.6 L529.1 128.6" fill="none" stroke="#ffffff" stroke-width="0.4" stroke-opacity="0.7"/><path d="M529.9 127.6 L530.8 129.0 L530.6 131.7" fill="none" stroke="#ffffff" stroke-width="0.4" stroke-opacity="0.7"/><path d="M533.6 118.5 L536.6 118.2 L539.8 118.8 L541.0 117.8" fill="none" stroke="#ffffff" stroke-width="0.4" stroke-opacity="0.7"/><path d="M533.5 115.6 L535.4 115.3 L536.2 113.5 L537.6 112.9" fill="none" stroke="#ffffff" stroke-width="0.4" stroke-opacity="0.7"/><path d="M531.4 113.0 L536.2 113.5" fill="none" stroke="#ffffff" stroke-width="0.4" stroke-opacity="0.7"/><path d="M532.0 111.2 L535.3 111.2 L537.0 111.2" fill="none" stroke="#ffffff" stroke-width="0.4" stroke-opacity="0.7"/><path d="M537.6 125.4 L539.2 122.9 L536.6 122.2" fill="none" stroke="#ffffff" stroke-width="0.4" stroke-opacity="0.7"/><path d="M599.7 159.7 L600.2 156.6 L599.5 155.1 L599.0 153.6 L600.0 151.0 L601.1 150.3 L602.1 149.4" fill="none" stroke="#ffffff" stroke-width="0.4" stroke-opacity="0.7"/><path d="M601.1 150.3 L601.9 152.7 L602.9 152.4 L605.2 152.9 L606.0 155.3 L605.9 155.9" fill="none" stroke="#ffffff" stroke-width="0.4" stroke-opacity="0.7"/><path d="M605.9 155.9 L603.2 156.5 L603.3 158.0" fill="none" stroke="#ffffff" stroke-width="0.4" stroke-opacity="0.7"/><path d="M602.8 149.0 L604.6 150.7 L605.1 152.1 L607.2 154.4 L607.8 155.7 L606.3 158.4 L605.0 159.4" fill="none" stroke="#ffffff" stroke-width="0.4" stroke-opacity="0.7"/><path d="M624.1 133.7 L626.0 132.7" fill="none" stroke="#ffffff" stroke-width="0.4" stroke-opacity="0.7"/><path d="M594.5 149.0 L595.0 147.9 L595.9 147.0" fill="none" stroke="#ffffff" stroke-width="0.4" stroke-opacity="0.7"/><path d="M388.2 94.3 L392.2 95.4 L395.3 94.3 L398.8 93.6 L402.8 94.6 L406.8 94.7 L411.2 95.5 L414.7 96.9 L419.1 95.8 L423.6 97.0 L426.7 97.2 L427.7 95.7 L428.9 92.4 L429.7 94.1 L432.0 95.5 L434.6 95.4 L435.5 97.9 L437.0 98.1 L437.7 94.0 L439.9 94.3 L440.8 96.0 L441.0 98.2 L438.6 99.3 L436.8 101.2 L435.7 102.3 L432.8 103.7 L430.6 105.4 L429.3 108.0 L429.3 109.6 L430.8 111.9 L433.3 111.9 L435.0 112.7 L437.7 114.0 L440.1 114.4 L440.1 116.9 L441.6 118.7 L443.0 118.6 L443.3 117.4 L442.7 114.9 L444.8 113.3 L445.1 111.5 L443.9 109.7 L444.2 107.6 L443.8 104.9 L446.1 104.9 L448.3 105.1 L450.1 106.6 L451.4 106.7 L451.6 109.1 L453.1 110.3 L455.4 107.6 L456.1 108.7 L457.1 111.3 L458.5 113.2 L459.8 114.2 L462.0 115.3 L463.3 116.5 L463.6 117.9 L462.1 118.7 L459.8 120.1 L456.2 120.1 L454.0 120.3 L451.2 122.3 L450.0 123.9 L452.3 122.1 L455.8 121.4 L455.7 122.5 L455.1 122.9 L455.5 123.7 L456.2 124.6 L458.6 125.2 L459.6 124.9 L459.9 125.0 L458.9 125.7 L456.7 126.4 L454.6 127.4 L454.2 126.5 L455.8 125.6 L454.3 125.7 L453.6 125.8 L452.9 123.6 L451.6 123.3 L450.7 125.0 L449.6 126.0 L446.8 126.0 L445.4 126.8 L443.0 127.8 L443.0 128.3 L441.2 128.9 L439.5 129.2 L439.9 128.1 L440.3 125.6 L438.1 124.3 L437.9 124.0 L434.7 122.3 L433.6 122.6 L428.7 121.5 L424.4 121.5 L415.6 121.5 L404.1 121.5 L403.9 120.9 L402.5 120.1 L400.4 119.2 L399.7 117.8 L398.1 116.1 L397.7 114.6 L398.0 113.3 L396.6 112.0 L395.1 110.1 L393.4 108.4 L391.3 109.1 L390.0 107.6 L388.2 107.6Z" fill="#a6d8d2" stroke="#ffffff" stroke-width="0.35" stroke-linejoin="round"/><path d="M403.9 122.2 L402.3 121.7 L399.5 119.5 L400.4 119.3 L402.2 120.1 L403.7 121.6Z" fill="#a6d8d2" stroke="#ffffff" stroke-width="0.35" stroke-linejoin="round"/><path d="M460.4 123.1 L463.3 123.1 L465.4 124.1 L466.2 123.2 L465.5 121.1 L463.5 120.9 L463.7 118.5 L462.4 118.7 L461.2 121.3Z" fill="#a6d8d2" stroke="#ffffff" stroke-width="0.35" stroke-linejoin="round"/><path d="M458.2 98.8 L456.2 97.5 L453.6 95.8 L452.2 93.3 L449.6 92.0 L447.0 90.9 L443.9 89.4 L441.7 87.6 L437.2 88.1 L433.7 89.4 L435.0 91.7 L437.2 93.0 L440.3 94.1 L443.0 94.6 L445.2 95.2 L447.0 96.4 L448.3 97.9 L447.4 99.0 L444.8 100.4 L446.1 102.0 L448.3 102.3 L450.9 104.3 L453.1 105.1 L455.4 105.1 L455.5 102.9 L454.9 101.2 L457.1 100.4Z" fill="#a6d8d2" stroke="#ffffff" stroke-width="0.35" stroke-linejoin="round"/><path d="M441.9 102.9 L440.3 103.1 L436.4 103.0 L436.8 100.4 L438.6 99.6 L440.8 100.7Z" fill="#a6d8d2" stroke="#ffffff" stroke-width="0.35" stroke-linejoin="round"/><path d="M423.1 94.3 L420.0 95.4 L416.5 95.5 L412.5 94.9 L409.0 93.6 L408.1 92.0 L410.3 90.1 L413.8 89.1 L416.9 88.8 L418.7 89.6 L420.4 91.2 L422.2 92.5Z" fill="#a6d8d2" stroke="#ffffff" stroke-width="0.35" stroke-linejoin="round"/><path d="M410.3 89.9 L407.7 91.1 L402.2 90.6 L402.8 86.5 L406.3 86.2 L409.9 87.7Z" fill="#a6d8d2" stroke="#ffffff" stroke-width="0.35" stroke-linejoin="round"/><path d="M430.2 90.4 L428.0 90.9 L423.6 90.4 L422.2 88.4 L424.9 87.0 L428.9 87.0 L432.0 87.0 L433.3 88.8 L431.5 90.1Z" fill="#a6d8d2" stroke="#ffffff" stroke-width="0.35" stroke-linejoin="round"/><path d="M442.1 86.0 L435.0 86.4 L431.5 85.8 L428.0 84.4 L430.6 82.8 L435.0 82.8 L439.5 82.8 L442.1 84.1Z" fill="#a6d8d2" stroke="#ffffff" stroke-width="0.35" stroke-linejoin="round"/><path d="M420.5 84.4 L417.4 85.7 L412.1 86.0 L409.0 84.9 L410.3 82.6 L415.6 82.2 L419.1 83.0Z" fill="#a6d8d2" stroke="#ffffff" stroke-width="0.35" stroke-linejoin="round"/><path d="M426.7 85.3 L423.6 85.3 L420.9 83.9 L421.8 82.4 L425.3 82.6 L427.1 83.5Z" fill="#a6d8d2" stroke="#ffffff" stroke-width="0.35" stroke-linejoin="round"/><path d="M458.0 71.7 L452.7 69.8 L443.9 69.3 L435.0 71.7 L431.5 73.4 L428.9 75.3 L429.7 77.9 L433.3 79.8 L436.8 80.6 L440.3 82.4 L443.4 83.0 L445.2 79.8 L447.4 78.1 L450.9 76.9 L455.4 74.7Z" fill="#a6d8d2" stroke="#ffffff" stroke-width="0.35" stroke-linejoin="round"/><path d="M436.8 76.9 L432.4 79.4 L428.0 77.9 L427.1 74.9 L431.5 73.4 L435.0 73.8Z" fill="#a6d8d2" stroke="#ffffff" stroke-width="0.35" stroke-linejoin="round"/><path d="M424.4 80.7 L420.9 81.1 L419.1 79.2 L420.9 77.9 L424.0 78.5Z" fill="#a6d8d2" stroke="#ffffff" stroke-width="0.35" stroke-linejoin="round"/><path d="M403.3 83.3 L408.6 83.9 L409.9 82.1 L405.9 81.1Z" fill="#a6d8d2" stroke="#ffffff" stroke-width="0.35" stroke-linejoin="round"/><path d="M420.9 79.8 L424.4 79.2 L423.6 77.5 L420.5 78.5Z" fill="#a6d8d2" stroke="#ffffff" stroke-width="0.35" stroke-linejoin="round"/><path d="M427.5 85.5 L430.6 85.3 L429.7 83.9 L427.3 84.2Z" fill="#a6d8d2" stroke="#ffffff" stroke-width="0.35" stroke-linejoin="round"/><path d="M425.3 95.4 L428.0 94.9 L427.8 93.8 L425.8 93.8Z" fill="#a6d8d2" stroke="#ffffff" stroke-width="0.35" stroke-linejoin="round"/><path d="M428.9 89.6 L431.5 89.8 L432.8 87.4 L429.3 86.9Z" fill="#a6d8d2" stroke="#ffffff" stroke-width="0.35" stroke-linejoin="round"/><path d="M442.1 88.8 L444.8 89.1 L445.2 87.7 L441.7 87.4Z" fill="#a6d8d2" stroke="#ffffff" stroke-width="0.35" stroke-linejoin="round"/><path d="M439.5 104.7 L441.2 105.1 L440.8 104.1Z" fill="#a6d8d2" stroke="#ffffff" stroke-width="0.35" stroke-linejoin="round"/><path d="M404.1 121.5 L402.6 122.2 L403.3 124.5 L403.2 128.1 L402.9 130.9 L403.5 132.3 L404.6 133.8 L405.1 134.8 L406.3 136.8 L408.1 137.4 L409.3 138.9 L411.5 138.7 L414.7 140.0 L417.2 140.0 L418.7 139.5 L420.5 141.7 L421.8 142.3 L423.2 141.5 L424.9 143.7 L426.9 145.2 L426.7 143.4 L429.1 141.9 L429.9 141.6 L432.7 142.2 L434.0 142.1 L433.5 141.1 L435.0 140.6 L437.3 141.6 L438.6 141.3 L439.7 143.7 L441.0 145.9 L442.0 145.3 L441.6 142.7 L440.9 140.6 L441.3 139.3 L443.0 137.7 L444.0 137.4 L446.1 136.2 L445.6 134.4 L446.4 132.7 L447.4 130.7 L449.2 130.2 L450.9 129.6 L450.4 128.4 L450.8 127.4 L453.6 126.2 L452.9 123.6 L451.6 123.3 L450.7 125.0 L449.6 126.0 L446.8 126.0 L445.4 126.8 L443.0 127.8 L443.0 128.3 L441.2 128.9 L439.5 129.2 L439.9 128.1 L440.3 125.6 L438.1 124.3 L437.9 124.0 L434.7 122.3 L433.6 122.6 L428.7 121.5Z" fill="#76cdbf" stroke="#ffffff" stroke-width="0.35" stroke-linejoin="round"/><path d="M388.2 94.3 L384.7 93.5 L380.3 93.0 L374.3 91.6 L371.5 92.7 L369.3 93.6 L366.2 95.4 L367.9 96.9 L368.2 98.1 L367.1 98.8 L365.7 99.4 L364.4 100.3 L366.2 101.6 L368.8 101.9 L370.6 102.3 L370.8 103.6 L367.2 103.8 L366.2 105.9 L366.9 107.2 L369.7 108.0 L369.5 109.3 L373.2 109.7 L374.1 110.9 L372.8 112.4 L369.7 113.7 L367.5 114.8 L368.8 114.4 L372.3 113.4 L375.3 111.7 L376.8 110.4 L377.6 109.3 L378.7 109.1 L379.2 107.0 L380.3 106.4 L380.7 107.9 L382.9 107.0 L383.8 107.4 L385.6 108.0 L388.2 108.0 L389.8 108.7 L391.3 109.9 L392.2 110.6 L393.1 111.9 L394.2 113.0 L395.3 114.2 L396.5 114.4 L398.0 114.2 L398.0 113.3 L396.6 112.0 L395.1 110.1 L393.4 108.4 L391.3 109.1 L390.0 107.6 L388.2 107.6Z" fill="#76cdbf" stroke="#ffffff" stroke-width="0.35" stroke-linejoin="round"/><path d="M431.4 124.1 L433.3 124.2 L435.5 124.3 L438.0 124.3 L437.9 123.1 L436.4 121.8 L434.7 122.1 L433.6 122.6Z" fill="#ffffff" stroke="#ffffff" stroke-width="0.2" stroke-linejoin="round"/><path d="M435.2 129.5 L435.9 129.6 L436.6 128.1 L436.5 126.1 L437.7 125.0 L436.4 125.0 L435.3 126.4Z" fill="#ffffff" stroke="#ffffff" stroke-width="0.2" stroke-linejoin="round"/><path d="M438.0 125.1 L439.1 125.7 L439.9 128.0 L440.6 127.6 L441.0 126.5 L442.0 126.4 L441.2 125.0 L438.6 124.5Z" fill="#ffffff" stroke="#ffffff" stroke-width="0.2" stroke-linejoin="round"/><path d="M439.1 129.4 L441.2 129.6 L443.0 128.5 L442.7 128.2 L441.2 128.5 L439.4 129.1Z" fill="#ffffff" stroke="#ffffff" stroke-width="0.2" stroke-linejoin="round"/><path d="M442.3 127.8 L445.5 127.6 L445.4 126.9 L442.6 127.3Z" fill="#ffffff" stroke="#ffffff" stroke-width="0.2" stroke-linejoin="round"/><path d="M540.1 93.2 L541.9 94.6 L545.0 95.2 L548.5 97.0 L549.1 98.5 L548.1 99.4 L546.3 99.7 L543.7 99.1 L542.3 98.8 L543.5 99.9 L543.6 101.9 L545.6 101.0 L547.8 101.9 L548.5 101.5 L550.7 99.4 L551.6 96.0 L555.1 97.2 L559.5 96.3 L561.8 96.1 L564.0 95.4 L565.7 95.4 L566.6 94.0 L569.7 94.6 L571.9 95.8 L573.2 96.6 L572.8 94.4 L571.7 92.9 L572.1 91.2 L574.1 88.9 L575.9 89.1 L577.0 90.1 L576.3 93.6 L577.2 96.0 L576.8 99.0 L578.1 97.5 L579.0 95.2 L577.7 92.9 L578.5 89.1 L579.9 91.2 L582.1 89.9 L583.8 89.9 L584.1 87.7 L589.4 87.2 L589.7 85.3 L596.6 83.3 L600.2 82.6 L602.4 81.7 L604.8 80.4 L606.3 80.9 L607.7 82.6 L610.8 82.2 L613.0 83.2 L612.8 87.6 L616.9 87.7 L621.4 87.9 L624.4 89.8 L626.2 89.1 L626.7 92.0 L628.9 92.0 L629.7 90.6 L635.0 91.1 L636.4 89.8 L645.2 91.2 L647.4 92.2 L653.1 92.2 L654.5 94.3 L660.6 94.1 L663.3 93.5 L668.2 94.0 L671.7 95.2 L674.3 95.4 L677.0 97.0 L680.8 99.6 L678.3 100.4 L677.9 102.2 L675.2 102.0 L673.0 100.9 L672.6 101.7 L670.4 101.7 L669.0 104.7 L665.5 106.0 L662.9 108.0 L659.3 107.6 L657.1 108.2 L656.9 110.0 L655.8 110.9 L656.9 113.0 L655.6 114.8 L654.0 116.8 L652.7 117.7 L651.1 119.2 L650.5 116.8 L650.3 113.8 L651.2 111.3 L652.4 110.6 L654.0 109.0 L656.2 106.0 L654.5 105.6 L652.3 105.8 L648.7 108.7 L647.0 109.3 L643.4 109.0 L639.0 109.0 L636.8 110.8 L634.6 112.7 L632.1 114.6 L633.7 115.6 L635.5 115.4 L637.5 116.7 L636.8 118.6 L636.5 122.1 L635.0 123.7 L632.8 127.0 L630.2 128.3 L628.4 128.6 L628.2 128.9 L628.3 127.9 L628.7 126.2 L630.3 125.8 L631.7 122.3 L630.5 122.4 L628.4 123.0 L628.1 121.6 L625.3 120.6 L624.0 117.1 L621.8 116.2 L619.6 116.5 L618.7 118.0 L618.3 120.0 L616.8 120.9 L615.8 120.6 L613.4 120.0 L608.1 120.9 L606.3 120.0 L602.8 118.6 L599.3 118.0 L599.3 120.1 L595.7 119.8 L593.5 119.9 L590.3 121.3 L589.6 121.4 L587.8 120.3 L586.5 119.2 L583.4 119.4 L580.7 116.2 L577.6 115.6 L575.0 114.2 L572.8 114.5 L570.1 115.0 L566.6 115.6 L566.6 118.0 L564.8 119.2 L562.2 119.4 L559.5 118.6 L557.3 118.6 L555.1 120.3 L554.2 121.5 L553.8 122.6 L554.2 123.7 L556.2 124.4 L554.7 125.3 L554.0 126.5 L554.7 128.1 L555.6 129.4 L555.0 130.0 L553.8 129.4 L552.5 128.6 L551.2 128.2 L549.8 127.9 L548.1 127.7 L546.5 126.6 L545.9 126.3 L546.5 124.6 L547.4 123.6 L548.1 122.6 L548.1 120.9 L546.7 120.2 L544.1 119.9 L542.8 118.6 L541.0 117.8 L540.7 115.9 L540.0 113.7 L537.6 112.9 L537.2 111.3 L537.0 110.0 L537.5 109.0 L539.4 108.2 L538.4 107.8 L537.3 107.4 L538.9 106.3 L540.6 104.3 L539.2 102.9 L539.6 102.2 L538.8 100.9 L539.2 99.7 L538.4 97.2 L538.0 95.4 L538.4 94.1 L539.9 94.0Z" fill="#a6d8d2" stroke="#ffffff" stroke-width="0.35" stroke-linejoin="round"/><path d="M558.7 91.2 L563.1 92.7 L561.8 89.1 L564.8 85.3 L569.3 83.0 L573.6 81.9 L569.3 81.7 L564.0 83.5 L561.3 86.2 L559.5 88.8Z" fill="#a6d8d2" stroke="#ffffff" stroke-width="0.35" stroke-linejoin="round"/><path d="M596.6 77.9 L601.0 79.2 L605.5 78.8 L604.6 76.3 L601.0 73.8 L596.6 74.9Z" fill="#a6d8d2" stroke="#ffffff" stroke-width="0.35" stroke-linejoin="round"/><path d="M633.7 85.3 L637.2 87.0 L642.5 85.3 L645.2 84.4 L640.8 83.0 L635.5 83.2Z" fill="#a6d8d2" stroke="#ffffff" stroke-width="0.35" stroke-linejoin="round"/><path d="M552.5 75.9 L556.9 76.3 L565.7 75.5 L568.4 73.8 L564.0 72.2 L556.9 73.8Z" fill="#a6d8d2" stroke="#ffffff" stroke-width="0.35" stroke-linejoin="round"/><path d="M638.1 124.9 L639.5 124.3 L639.2 121.1 L640.4 121.6 L639.0 118.2 L639.3 116.5 L638.7 115.1 L638.3 116.2 L637.8 118.0 L638.2 120.3Z" fill="#a6d8d2" stroke="#ffffff" stroke-width="0.35" stroke-linejoin="round"/><path d="M670.4 92.0 L673.0 91.7 L673.9 91.1 L671.2 91.1Z" fill="#a6d8d2" stroke="#ffffff" stroke-width="0.35" stroke-linejoin="round"/><path d="M517.2 105.4 L517.3 109.0 L518.0 110.4 L519.4 110.6 L521.1 109.3 L522.2 108.8 L522.7 109.2 L523.3 111.2 L524.0 112.9 L524.1 113.9 L525.4 113.7 L526.9 112.9 L527.3 111.3 L527.6 109.6 L529.2 108.7 L528.0 107.1 L528.2 104.9 L530.0 103.1 L531.6 101.5 L532.4 99.9 L534.0 100.0 L533.7 97.6 L531.7 96.3 L530.9 95.1 L532.5 95.7 L534.7 95.8 L535.5 94.7 L536.6 93.8 L538.0 95.1 L538.4 94.1 L539.9 94.0 L540.1 93.2 L537.9 92.0 L535.3 91.9 L533.1 92.7 L529.5 93.6 L526.9 95.2 L525.1 96.7 L524.2 99.0 L523.3 101.2 L522.0 102.6 L519.8 104.0Z" fill="#b5dad6" stroke="#ffffff" stroke-width="0.35" stroke-linejoin="round"/><path d="M522.7 109.2 L523.3 111.2 L524.0 112.9 L524.1 113.9 L525.4 113.7 L526.9 112.9 L527.3 111.3 L527.6 109.6 L529.2 108.7 L528.0 107.1 L528.2 104.9 L530.0 103.1 L531.6 101.5 L532.4 99.9 L534.0 100.0 L533.7 97.6 L531.7 96.3 L530.9 95.1 L528.6 96.0 L527.3 97.5 L526.4 99.4 L525.5 100.9 L524.7 101.9 L523.5 103.3 L523.5 105.4 L523.9 106.7 L523.6 108.0Z" fill="#a6d8d2" stroke="#ffffff" stroke-width="0.35" stroke-linejoin="round"/><path d="M628.1 128.8 L627.1 128.8 L625.8 129.7 L624.4 129.6 L622.5 131.4 L620.5 132.1 L619.8 132.5 L620.1 130.3 L617.8 132.1 L616.6 132.7 L617.6 134.0 L618.0 134.2 L619.4 133.6 L620.9 134.2 L619.1 135.4 L618.1 136.4 L619.4 138.9 L620.4 140.3 L620.0 141.0 L620.5 141.5 L620.0 142.9 L618.9 144.5 L618.3 145.7 L617.2 146.5 L615.6 148.0 L613.6 148.6 L611.6 149.1 L610.3 149.8 L610.1 150.4 L609.5 149.2 L608.1 149.3 L607.0 148.1 L605.7 147.7 L603.7 148.3 L602.8 149.0 L602.1 149.4 L600.6 148.8 L599.9 147.0 L599.0 147.1 L599.9 143.7 L598.8 142.9 L597.5 141.9 L596.2 142.0 L594.0 143.4 L591.3 143.2 L590.5 143.3 L588.7 143.2 L586.9 142.5 L584.4 141.1 L582.5 139.9 L582.3 138.9 L582.9 138.4 L582.5 137.1 L581.6 135.9 L579.9 135.6 L578.8 134.1 L578.5 132.7 L577.9 131.8 L579.4 130.7 L580.6 130.1 L582.1 129.6 L583.5 129.1 L583.6 128.1 L584.1 126.0 L585.6 125.4 L586.0 123.5 L588.2 123.6 L589.8 121.3 L590.4 122.1 L592.7 123.2 L593.1 124.9 L595.3 126.0 L597.9 128.4 L601.0 128.5 L605.5 129.6 L609.9 128.5 L611.5 127.4 L613.8 125.5 L615.8 124.4 L618.4 124.1 L616.9 122.9 L616.8 120.9 L618.3 120.0 L618.7 118.0 L619.6 116.5 L621.8 116.2 L624.0 117.1 L625.3 120.6 L628.1 121.6 L628.4 123.0 L630.5 122.4 L631.7 122.3 L630.3 125.8 L628.7 126.2 L628.3 127.9Z" fill="#a6d8d2" stroke="#ffffff" stroke-width="0.35" stroke-linejoin="round"/><path d="M608.6 151.4 L609.9 150.6 L610.8 151.1 L609.4 152.4Z" fill="#a6d8d2" stroke="#ffffff" stroke-width="0.35" stroke-linejoin="round"/><path d="M531.6 107.0 L533.0 108.2 L535.3 107.6 L537.3 107.4 L538.9 106.3 L540.6 104.3 L539.2 102.9 L539.6 102.2 L538.8 100.9 L539.2 99.7 L538.4 97.2 L538.0 95.4 L538.0 95.1 L536.6 93.8 L535.5 94.7 L534.7 95.8 L532.5 95.7 L530.9 95.1 L531.7 96.3 L533.7 97.6 L534.0 100.0 L535.2 101.0 L534.5 101.7 L533.0 102.9 L531.6 104.1Z" fill="#a6d8d2" stroke="#ffffff" stroke-width="0.35" stroke-linejoin="round"/><path d="M519.1 116.5 L520.3 116.1 L520.3 114.5 L521.2 114.5 L522.5 115.6 L524.2 115.1 L525.3 115.7 L525.6 117.4 L526.0 119.1 L523.8 120.0 L524.9 121.7 L524.2 123.2 L522.0 123.2 L519.5 123.1 L520.0 121.5 L518.4 120.9 L518.1 119.8 L518.0 118.2 L518.9 117.8Z" fill="#a6d8d2" stroke="#ffffff" stroke-width="0.35" stroke-linejoin="round"/><path d="M515.0 119.1 L515.7 118.7 L516.5 118.0 L517.0 116.8 L519.1 116.5 L518.9 117.8 L518.0 118.2 L518.1 119.8 L518.4 120.9 L517.9 120.9 L516.5 120.5Z" fill="#a6d8d2" stroke="#ffffff" stroke-width="0.35" stroke-linejoin="round"/><path d="M518.0 124.6 L519.5 123.1 L521.1 123.1 L522.0 124.2 L520.7 125.0 L518.9 125.1Z" fill="#a6d8d2" stroke="#ffffff" stroke-width="0.35" stroke-linejoin="round"/><path d="M573.5 147.3 L574.8 148.0 L573.7 148.6 L575.0 149.9 L576.9 149.4 L577.0 149.8 L577.0 151.4 L577.6 154.4 L578.1 155.4 L578.8 157.1 L579.6 158.6 L580.3 160.7 L581.2 161.4 L581.8 160.7 L582.8 159.5 L583.3 159.4 L583.7 156.8 L583.7 154.4 L585.3 153.8 L587.8 151.3 L589.1 150.7 L589.6 149.3 L591.2 149.0 L591.2 146.5 L590.6 144.9 L592.0 145.1 L594.0 145.9 L594.2 147.3 L595.0 147.9 L595.9 147.0 L596.7 144.5 L598.4 143.5 L597.5 141.9 L596.2 142.0 L594.0 143.4 L592.0 144.4 L590.5 144.5 L586.9 143.9 L583.5 142.5 L584.4 141.1 L582.5 139.9 L582.3 138.9 L582.9 138.4 L582.5 137.1 L581.6 135.9 L579.9 135.6 L579.0 136.4 L578.1 136.6 L578.5 138.9 L579.1 139.0 L578.5 140.2 L578.1 141.3 L576.3 143.2 L575.2 143.4 L574.6 144.6 L574.8 145.4 L575.4 146.6Z" fill="#b6dcd7" stroke="#ffffff" stroke-width="0.35" stroke-linejoin="round"/><path d="M507.5 135.6 L508.3 135.6 L510.8 136.3 L511.2 136.9 L511.2 138.4 L509.6 139.7 L508.3 140.6 L505.1 142.5 L505.1 143.5 L501.3 143.6 L502.3 143.2 L504.1 141.7 L504.2 140.8 L505.2 138.2 L507.0 137.4Z" fill="#b6dcd7" stroke="#ffffff" stroke-width="0.35" stroke-linejoin="round"/><path d="M510.8 136.3 L511.2 136.9 L511.2 138.4 L509.6 139.7 L508.3 140.6 L505.1 142.5 L505.1 143.9 L507.0 145.1 L508.5 146.1 L513.8 149.8 L515.6 151.6 L516.5 151.4 L517.9 151.2 L519.4 149.9 L521.3 148.2 L523.3 147.5 L521.6 146.4 L521.0 144.9 L521.5 144.2 L521.1 141.1 L520.8 140.3 L519.4 138.2 L520.2 134.5 L517.2 134.6 L515.4 134.6 L511.9 136.0Z" fill="#b6dcd7" stroke="#ffffff" stroke-width="0.35" stroke-linejoin="round"/><path d="M520.2 134.5 L521.6 134.1 L522.5 134.3 L522.0 134.9 L522.4 136.2 L521.8 137.6 L522.9 138.3 L521.8 139.6 L521.1 141.1 L520.8 140.3 L519.4 138.2Z" fill="#b6dcd7" stroke="#ffffff" stroke-width="0.35" stroke-linejoin="round"/><path d="M556.4 179.2 L557.2 182.4 L556.8 183.3 L556.4 184.7 L555.6 187.0 L554.6 190.7 L552.7 191.6 L551.4 189.7 L551.0 188.2 L552.0 186.4 L551.6 184.0 L553.7 182.7 L555.0 181.0Z" fill="#b6dcd7" stroke="#ffffff" stroke-width="0.35" stroke-linejoin="round"/><path d="M511.2 127.8 L509.2 127.7 L506.6 127.5 L504.5 127.9 L504.9 129.2 L505.5 129.1 L507.0 129.5 L506.7 130.2 L506.6 131.7 L506.1 131.8 L506.4 132.8 L506.2 134.2 L507.2 134.6 L507.8 135.4 L508.9 134.7 L510.8 134.7 L512.1 133.8 L512.9 132.5 L512.5 131.8 L513.5 130.2 L515.6 129.3 L515.5 128.8Z" fill="#bfd9d6" stroke="#ffffff" stroke-width="0.35" stroke-linejoin="round"/><path d="M507.4 117.9 L507.4 115.7 L507.3 115.5 L506.0 115.5 L505.6 115.0 L506.2 114.2 L505.2 114.4 L505.2 115.3 L503.9 115.4 L504.0 116.5 L503.7 118.1 L505.2 118.5 L507.2 117.8Z" fill="#c6e3df" stroke="#ffffff" stroke-width="0.35" stroke-linejoin="round"/><path d="M628.3 137.4 L629.7 136.0 L632.4 135.8 L633.5 134.2 L635.0 133.6 L636.2 132.3 L636.4 130.8 L636.6 129.9 L637.7 129.8 L638.1 131.8 L637.2 133.1 L637.2 134.9 L637.1 135.7 L636.1 136.4 L635.3 136.8 L633.7 136.8 L632.8 137.9 L632.0 136.9 L630.2 137.1 L628.4 137.5Z" fill="#e3eeec" stroke="#d5dcdc" stroke-width="0.4" stroke-linejoin="round"/><path d="M627.4 137.9 L627.7 140.0 L628.8 139.9 L629.0 138.1 L628.3 137.4Z" fill="#e3eeec" stroke="#d5dcdc" stroke-width="0.4" stroke-linejoin="round"/><path d="M629.7 138.1 L630.7 137.1 L631.7 137.2 L631.2 138.2 L630.2 138.6Z" fill="#e3eeec" stroke="#d5dcdc" stroke-width="0.4" stroke-linejoin="round"/><path d="M636.4 129.7 L636.3 128.5 L637.6 125.5 L638.6 126.0 L641.2 126.7 L641.0 127.8 L639.3 129.2 L637.2 129.4Z" fill="#e3eeec" stroke="#d5dcdc" stroke-width="0.4" stroke-linejoin="round"/><path d="M507.7 120.3 L510.1 119.7 L514.0 119.0 L514.2 117.2 L513.0 116.3 L512.6 115.0 L511.3 113.7 L510.9 111.7 L511.2 111.2 L509.3 110.9 L510.1 109.9 L508.3 109.9 L507.3 111.3 L507.8 112.8 L507.3 113.2 L508.3 114.0 L508.4 114.9 L509.8 114.5 L510.0 115.9 L508.5 116.5 L509.0 117.7 L508.1 118.4 L509.9 118.7 L508.8 119.1Z" fill="#4dbfab" stroke="#ffffff" stroke-width="0.35" stroke-linejoin="round"/><path d="M507.9 115.1 L507.3 115.5 L506.0 115.5 L505.6 115.0 L506.2 114.2 L507.4 114.2Z" fill="#4dbfab" stroke="#ffffff" stroke-width="0.35" stroke-linejoin="round"/><path d="M515.0 119.1 L516.5 120.5 L517.9 120.9 L520.0 121.5 L519.5 123.1 L518.0 124.6 L518.9 125.1 L518.6 126.0 L519.4 127.3 L518.2 128.0 L516.7 127.7 L515.5 128.0 L515.5 128.8 L511.2 127.8 L511.6 126.5 L511.7 124.9 L510.8 123.6 L508.8 122.7 L508.6 122.1 L510.1 121.7 L511.3 121.9 L511.1 120.7 L511.9 121.0 L512.9 120.7 L514.2 119.3Z" fill="#4dbfab" stroke="#ffffff" stroke-width="0.35" stroke-linejoin="round"/><path d="M520.3 129.8 L521.0 129.8 L521.1 128.1 L520.4 128.5Z" fill="#4dbfab" stroke="#ffffff" stroke-width="0.35" stroke-linejoin="round"/><path d="M465.1 163.5 L466.0 163.9 L467.2 164.9 L466.6 165.9 L466.0 166.7 L465.0 166.7 L464.9 165.8 L464.6 164.6Z" fill="#4dbfab" stroke="#ffffff" stroke-width="0.35" stroke-linejoin="round"/></svg>
<div class="t" style="left:532.80px;top:281.12px;font-size:8.6px;color:#555;-webkit-text-stroke:0.4px #555;">Referrer</div>
<div class="t" style="left:620.50px;top:281.12px;font-size:8.6px;color:#555;-webkit-text-stroke:0.4px #555;">Submissions</div>
<div class="r" style="left:524px;top:296.6px;width:175px;height:1px;background:#e9e9e9;"></div>
<div class="t" style="left:532.60px;top:303.44px;font-size:8.7px;color:#4e5d9d;letter-spacing:0.05px;">pierre.ammeloo...</div>
<div class="t" style="left:620.80px;top:303.44px;font-size:8.7px;color:#555;">157</div>
<div class="r" style="left:524px;top:318.6px;width:175px;height:1px;background:#e9e9e9;"></div>
<div class="t" style="left:532.60px;top:325.44px;font-size:8.7px;color:#4e5d9d;letter-spacing:0.05px;">pam.ammeloot....</div>
<div class="t" style="left:620.80px;top:325.44px;font-size:8.7px;color:#555;">74</div>
<div class="r" style="left:524px;top:340.8px;width:175px;height:1px;background:#e9e9e9;"></div>
<div class="t" style="left:532.60px;top:347.64px;font-size:8.7px;color:#4e5d9d;letter-spacing:0.05px;">pam.ammeloot....</div>
<div class="t" style="left:620.80px;top:347.64px;font-size:8.7px;color:#555;">73</div>
<div class="r" style="left:524px;top:362.8px;width:175px;height:1px;background:#e9e9e9;"></div>
<div class="t" style="left:532.60px;top:369.64px;font-size:8.7px;color:#4e5d9d;letter-spacing:0.05px;">www.freelances...</div>
<div class="t" style="left:620.80px;top:369.64px;font-size:8.7px;color:#555;">69</div>
<div class="r" style="left:524px;top:384.9px;width:175px;height:1px;background:#e9e9e9;"></div>
<div class="t" style="left:532.60px;top:391.74px;font-size:8.7px;color:#4e5d9d;letter-spacing:0.05px;">pam.ammeloot....</div>
<div class="t" style="left:620.80px;top:391.74px;font-size:8.7px;color:#555;">57</div>
<div class="r" style="left:524px;top:406.9px;width:175px;height:1px;background:#e9e9e9;"></div>
<div class="t" style="left:532.60px;top:413.74px;font-size:8.7px;color:#4e5d9d;letter-spacing:0.05px;">www.automatio...</div>
<div class="t" style="left:620.80px;top:413.74px;font-size:8.7px;color:#555;">37</div>
<svg style="left:0;top:0" width="900" height="468" viewBox="0 0 900 468"><path d="M188.5 388.80 H505" stroke="#e5e5e5" stroke-width="0.8"/><path d="M188.5 378.34 H505" stroke="#e5e5e5" stroke-width="0.8"/><path d="M188.5 367.88 H505" stroke="#e5e5e5" stroke-width="0.8"/><path d="M188.5 357.42 H505" stroke="#e5e5e5" stroke-width="0.8"/><path d="M188.5 346.96 H505" stroke="#e5e5e5" stroke-width="0.8"/><path d="M188.5 336.50 H505" stroke="#e5e5e5" stroke-width="0.8"/><path d="M193.00 336.5 V393.3" stroke="#e5e5e5" stroke-width="0.8"/><path d="M218.80 336.5 V393.3" stroke="#e5e5e5" stroke-width="0.8"/><path d="M244.60 336.5 V393.3" stroke="#e5e5e5" stroke-width="0.8"/><path d="M270.40 336.5 V393.3" stroke="#e5e5e5" stroke-width="0.8"/><path d="M296.20 336.5 V393.3" stroke="#e5e5e5" stroke-width="0.8"/><path d="M322.00 336.5 V393.3" stroke="#e5e5e5" stroke-width="0.8"/><path d="M347.80 336.5 V393.3" stroke="#e5e5e5" stroke-width="0.8"/><path d="M373.60 336.5 V393.3" stroke="#e5e5e5" stroke-width="0.8"/><path d="M399.40 336.5 V393.3" stroke="#e5e5e5" stroke-width="0.8"/><path d="M425.20 336.5 V393.3" stroke="#e5e5e5" stroke-width="0.8"/><path d="M451.00 336.5 V393.3" stroke="#e5e5e5" stroke-width="0.8"/><path d="M476.80 336.5 V393.3" stroke="#e5e5e5" stroke-width="0.8"/><path d="M502.60 336.5 V393.3" stroke="#e5e5e5" stroke-width="0.8"/><path d="M193.0 336.5 V388.8" stroke="#cfcfcf" stroke-width="0.8"/><path d="M193.00 388.80 C203.32 388.80 208.48 388.80 218.80 388.80 C229.12 388.80 234.47 388.80 244.60 388.80 C255.11 387.35 263.16 388.62 270.40 381.69 C283.80 368.87 286.49 338.09 296.20 339.43 C307.13 340.94 307.89 375.30 322.00 388.80 C328.53 388.80 337.48 388.80 347.80 388.80 C358.12 388.80 363.28 388.80 373.60 388.80 C383.92 388.80 389.08 388.80 399.40 388.80 C409.72 388.80 414.88 388.80 425.20 388.80 C435.52 388.80 440.68 388.80 451.00 388.80 C461.32 388.80 466.48 388.80 476.80 388.80 C487.12 388.80 492.28 388.80 502.60 388.80 L502.60 388.8 L193.00 388.8Z" fill="rgba(156,78,92,0.10)"/><path d="M193.00 388.80 C203.32 388.80 208.48 388.80 218.80 388.80 C229.12 388.80 234.47 388.80 244.60 388.80 C255.11 387.35 263.16 388.62 270.40 381.69 C283.80 368.87 286.49 338.09 296.20 339.43 C307.13 340.94 307.89 375.30 322.00 388.80 C328.53 388.80 337.48 388.80 347.80 388.80 C358.12 388.80 363.28 388.80 373.60 388.80 C383.92 388.80 389.08 388.80 399.40 388.80 C409.72 388.80 414.88 388.80 425.20 388.80 C435.52 388.80 440.68 388.80 451.00 388.80 C461.32 388.80 466.48 388.80 476.80 388.80 C487.12 388.80 492.28 388.80 502.60 388.80 L502.60 388.8 L193.00 388.8Z" fill="rgba(117,117,117,0.10)"/><path d="M193.00 388.80 C203.32 388.80 208.48 388.80 218.80 388.80 C229.12 388.80 234.28 388.80 244.60 388.80 C254.92 388.80 260.08 388.80 270.40 388.80 C280.72 388.80 285.88 388.80 296.20 388.80 C306.52 388.80 311.73 388.80 322.00 388.80 C332.37 388.11 337.83 388.06 347.80 385.35 C358.47 382.45 362.90 377.47 373.60 374.78 C383.54 372.28 389.08 372.43 399.40 372.38 C409.72 372.32 414.89 374.66 425.20 374.50 C435.53 374.35 440.65 372.19 451.00 371.60 C461.29 371.03 466.66 370.23 476.80 371.60 C487.30 373.03 492.28 375.80 502.60 378.60 L502.60 388.8 L193.00 388.8Z" fill="rgba(253,185,51,0.12)"/><path d="M193.00 388.80 C203.32 388.80 208.48 388.80 218.80 388.80 C229.12 388.80 234.28 388.80 244.60 388.80 C254.92 388.80 260.08 388.80 270.40 388.80 C280.72 388.80 285.88 388.80 296.20 388.80 C306.52 388.80 311.81 388.80 322.00 388.80 C332.45 387.62 338.18 387.04 347.80 382.99 C358.82 378.36 362.51 371.36 373.60 367.10 C383.15 363.43 389.06 363.35 399.40 363.17 C409.70 363.00 414.85 365.90 425.20 366.21 C435.49 366.51 440.67 365.00 451.00 364.70 C461.31 364.40 466.85 362.73 476.80 364.70 C487.49 366.81 492.28 370.82 502.60 374.90 L502.60 388.8 L193.00 388.8Z" fill="rgba(0,180,156,0.10)"/><path d="M193.00 388.80 C203.32 388.80 208.48 388.80 218.80 388.80 C229.12 388.80 234.48 388.80 244.60 388.80 C255.12 387.31 263.13 388.43 270.40 381.48 C283.77 368.68 286.51 338.05 296.20 339.43 C307.15 340.98 307.89 375.30 322.00 388.80 C328.53 388.80 337.48 388.80 347.80 388.80 C358.12 388.80 363.28 388.80 373.60 388.80 C383.92 388.80 389.08 388.80 399.40 388.80 C409.72 388.80 414.88 388.80 425.20 388.80 C435.52 388.80 440.68 388.80 451.00 388.80 C461.32 388.80 466.48 388.80 476.80 388.80 C487.12 388.80 492.28 388.80 502.60 388.80" fill="none" stroke="rgba(253,149,114,0.75)" stroke-width="1.1" clip-path="url(#clipsal)"/><defs><clipPath id="clipsal"><rect x="230" y="370" width="41" height="20"/></clipPath></defs><path d="M193.0 388.8 H502.60" stroke="#8d8d8d" stroke-width="1.3"/><path d="M244.60 388.8 H322.00" stroke="#6cbfa5" stroke-width="1.3"/><path d="M193.00 388.80 C203.32 388.80 208.48 388.80 218.80 388.80 C229.12 388.80 234.28 388.80 244.60 388.80 C254.92 388.80 260.08 388.80 270.40 388.80 C280.72 388.80 285.88 388.80 296.20 388.80 C306.52 388.80 311.73 388.80 322.00 388.80 C332.37 388.11 337.83 388.06 347.80 385.35 C358.47 382.45 362.90 377.47 373.60 374.78 C383.54 372.28 389.08 372.43 399.40 372.38 C409.72 372.32 414.89 374.66 425.20 374.50 C435.53 374.35 440.65 372.19 451.00 371.60 C461.29 371.03 466.66 370.23 476.80 371.60 C487.30 373.03 492.28 375.80 502.60 378.60" fill="none" stroke="rgba(240,200,110,0.9)" stroke-width="1.1"/><path d="M193.00 388.80 C203.32 388.80 208.48 388.80 218.80 388.80 C229.12 388.80 234.28 388.80 244.60 388.80 C254.92 388.80 260.08 388.80 270.40 388.80 C280.72 388.80 285.88 388.80 296.20 388.80 C306.52 388.80 311.81 388.80 322.00 388.80 C332.45 387.62 338.18 387.04 347.80 382.99 C358.82 378.36 362.51 371.36 373.60 367.10 C383.15 363.43 389.06 363.35 399.40 363.17 C409.70 363.00 414.85 365.90 425.20 366.21 C435.49 366.51 440.67 365.00 451.00 364.70 C461.31 364.40 466.85 362.73 476.80 364.70 C487.49 366.81 492.28 370.82 502.60 374.90" fill="none" stroke="rgba(60,190,165,0.9)" stroke-width="1.1"/><path d="M193.00 388.80 C203.32 388.80 208.48 388.80 218.80 388.80 C229.12 388.80 234.47 388.80 244.60 388.80 C255.11 387.35 263.16 388.62 270.40 381.69 C283.80 368.87 286.49 338.09 296.20 339.43 C307.13 340.94 307.89 375.30 322.00 388.80 C328.53 388.80 337.48 388.80 347.80 388.80 C358.12 388.80 363.28 388.80 373.60 388.80 C383.92 388.80 389.08 388.80 399.40 388.80 C409.72 388.80 414.88 388.80 425.20 388.80 C435.52 388.80 440.68 388.80 451.00 388.80 C461.32 388.80 466.48 388.80 476.80 388.80 C487.12 388.80 492.28 388.80 502.60 388.80" fill="none" stroke="#857c84" stroke-width="1.1"/><circle cx="347.80" cy="385.35" r="1.6" fill="#f2d690" stroke="#e6c87a" stroke-width="0.5"/><circle cx="373.60" cy="374.78" r="1.6" fill="#f2d690" stroke="#e6c87a" stroke-width="0.5"/><circle cx="399.40" cy="372.38" r="1.6" fill="#f2d690" stroke="#e6c87a" stroke-width="0.5"/><circle cx="425.20" cy="374.50" r="1.6" fill="#f2d690" stroke="#e6c87a" stroke-width="0.5"/><circle cx="451.00" cy="371.60" r="1.6" fill="#f2d690" stroke="#e6c87a" stroke-width="0.5"/><circle cx="476.80" cy="371.60" r="1.6" fill="#f2d690" stroke="#e6c87a" stroke-width="0.5"/><circle cx="502.60" cy="378.60" r="1.6" fill="#f2d690" stroke="#e6c87a" stroke-width="0.5"/><circle cx="347.80" cy="382.99" r="1.6" fill="#7fd3c0" stroke="#4dbba3" stroke-width="0.5"/><circle cx="373.60" cy="367.10" r="1.6" fill="#7fd3c0" stroke="#4dbba3" stroke-width="0.5"/><circle cx="399.40" cy="363.17" r="1.6" fill="#7fd3c0" stroke="#4dbba3" stroke-width="0.5"/><circle cx="425.20" cy="366.21" r="1.6" fill="#7fd3c0" stroke="#4dbba3" stroke-width="0.5"/><circle cx="451.00" cy="364.70" r="1.6" fill="#7fd3c0" stroke="#4dbba3" stroke-width="0.5"/><circle cx="476.80" cy="364.70" r="1.6" fill="#7fd3c0" stroke="#4dbba3" stroke-width="0.5"/><circle cx="502.60" cy="374.90" r="1.6" fill="#7fd3c0" stroke="#4dbba3" stroke-width="0.5"/><circle cx="270.40" cy="381.69" r="1.6" fill="#c9a2a8" stroke="#8b7d85" stroke-width="0.5"/><circle cx="296.20" cy="339.43" r="1.6" fill="#b8adb4" stroke="#7a6f78" stroke-width="0.6"/><circle cx="193.00" cy="388.8" r="1.6" fill="#676c78"/><circle cx="218.80" cy="388.8" r="1.6" fill="#676c78"/><circle cx="244.60" cy="388.8" r="1.6" fill="#3f7f78"/><circle cx="270.40" cy="388.8" r="1.6" fill="#66bb9f"/><circle cx="296.20" cy="388.8" r="1.6" fill="#66bb9f"/><circle cx="322.00" cy="388.8" r="1.6" fill="#4f6b6d"/><circle cx="347.80" cy="388.8" r="1.6" fill="#676c78"/><circle cx="373.60" cy="388.8" r="1.6" fill="#676c78"/><circle cx="399.40" cy="388.8" r="1.6" fill="#676c78"/><circle cx="425.20" cy="388.8" r="1.6" fill="#676c78"/><circle cx="451.00" cy="388.8" r="1.6" fill="#676c78"/><circle cx="476.80" cy="388.8" r="1.6" fill="#676c78"/><circle cx="502.60" cy="388.8" r="1.6" fill="#676c78"/><text x="187" y="391.50" text-anchor="end" font-family="Liberation Sans" font-size="7.6" fill="#666">0</text><text x="187" y="381.04" text-anchor="end" font-family="Liberation Sans" font-size="7.6" fill="#666">1000</text><text x="187" y="370.58" text-anchor="end" font-family="Liberation Sans" font-size="7.6" fill="#666">2000</text><text x="187" y="360.12" text-anchor="end" font-family="Liberation Sans" font-size="7.6" fill="#666">3000</text><text x="187" y="349.66" text-anchor="end" font-family="Liberation Sans" font-size="7.6" fill="#666">4000</text><text x="187" y="339.20" text-anchor="end" font-family="Liberation Sans" font-size="7.6" fill="#666">5000</text><text x="0" y="0" transform="translate(194.10 397.9) rotate(-50)" text-anchor="end" font-family="Liberation Sans" font-size="7.3" fill="#666">Aug 2019</text><text x="0" y="0" transform="translate(219.90 397.9) rotate(-50)" text-anchor="end" font-family="Liberation Sans" font-size="7.3" fill="#666">Sep 2019</text><text x="0" y="0" transform="translate(245.70 397.9) rotate(-50)" text-anchor="end" font-family="Liberation Sans" font-size="7.3" fill="#666">Oct 2019</text><text x="0" y="0" transform="translate(271.50 397.9) rotate(-50)" text-anchor="end" font-family="Liberation Sans" font-size="7.3" fill="#666">Nov 2019</text><text x="0" y="0" transform="translate(297.30 397.9) rotate(-50)" text-anchor="end" font-family="Liberation Sans" font-size="7.3" fill="#666">Dec 2019</text><text x="0" y="0" transform="translate(323.10 397.9) rotate(-50)" text-anchor="end" font-family="Liberation Sans" font-size="7.3" fill="#666">Jan 2020</text><text x="0" y="0" transform="translate(348.90 397.9) rotate(-50)" text-anchor="end" font-family="Liberation Sans" font-size="7.3" fill="#666">Feb 2020</text><text x="0" y="0" transform="translate(374.70 397.9) rotate(-50)" text-anchor="end" font-family="Liberation Sans" font-size="7.3" fill="#666">Mar 2020</text><text x="0" y="0" transform="translate(400.50 397.9) rotate(-50)" text-anchor="end" font-family="Liberation Sans" font-size="7.3" fill="#666">Apr 2020</text><text x="0" y="0" transform="translate(426.30 397.9) rotate(-50)" text-anchor="end" font-family="Liberation Sans" font-size="7.3" fill="#666">May 2020</text><text x="0" y="0" transform="translate(452.10 397.9) rotate(-50)" text-anchor="end" font-family="Liberation Sans" font-size="7.3" fill="#666">Jun 2020</text><text x="0" y="0" transform="translate(477.90 397.9) rotate(-50)" text-anchor="end" font-family="Liberation Sans" font-size="7.3" fill="#666">Jul 2020</text><text x="0" y="0" transform="translate(503.70 397.9) rotate(-50)" text-anchor="end" font-family="Liberation Sans" font-size="7.3" fill="#666">Aug 2020</text><rect x="189.70" y="281.40" width="7.2" height="7.2" fill="rgba(78,93,157,0.1)" stroke="rgba(78,93,157,0.55)" stroke-width="0.9"/><text x="200.40" y="287.70" font-family="Liberation Sans" font-size="7.6" fill="#666">Contacts sans propriétaire: Identified</text><rect x="330.80" y="281.40" width="7.2" height="7.2" fill="rgba(0,180,156,0.12)" stroke="rgba(0,180,156,0.55)" stroke-width="0.9"/><text x="341.50" y="287.70" font-family="Liberation Sans" font-size="7.6" fill="#666">Contacts sans propriétaire: Anonymous</text><rect x="209.80" y="295.60" width="7.2" height="7.2" fill="rgba(240,150,150,0.12)" stroke="rgba(240,150,150,0.55)" stroke-width="0.9"/><text x="220.50" y="301.90" font-family="Liberation Sans" font-size="7.6" fill="#666">Pas de champs Ville: Identified</text><rect x="330.80" y="295.60" width="7.2" height="7.2" fill="rgba(253,185,51,0.15)" stroke="rgba(253,185,51,0.55)" stroke-width="0.9"/><text x="341.50" y="301.90" font-family="Liberation Sans" font-size="7.6" fill="#666">Pas de champs Ville: Anonymous</text><rect x="241.80" y="309.20" width="7.2" height="7.2" fill="rgba(117,117,117,0.12)" stroke="rgba(117,117,117,0.7)" stroke-width="0.9"/><text x="252.50" y="315.50" font-family="Liberation Sans" font-size="7.6" fill="#666">Contact avec une activité (depuis 3 ans): Identified</text><rect x="237.40" y="322.90" width="7.2" height="7.2" fill="rgba(200,120,140,0.15)" stroke="rgba(200,120,140,0.65)" stroke-width="0.9"/><text x="248.10" y="329.20" font-family="Liberation Sans" font-size="7.6" fill="#666">Contact avec une activité (depuis 3 ans): Anonymous</text></svg>
<svg style="left:0;top:0" width="900" height="468" viewBox="0 0 900 468"><path d="M796.0 384.0 L796.00 338.30 A45.7 45.7 0 1 1 750.32 385.23Z" fill="rgba(78,93,157,0.8)" stroke="#fff" stroke-width="1.3" stroke-linejoin="round"/><path d="M796.0 384.0 L750.32 385.23 A45.7 45.7 0 0 1 771.42 345.47Z" fill="#42c0a2" stroke="#fff" stroke-width="1.3" stroke-linejoin="round"/><path d="M796.0 384.0 L771.42 345.47 A45.7 45.7 0 0 1 782.07 340.47Z" fill="rgba(253,149,114,0.8)" stroke="#fff" stroke-width="1.3" stroke-linejoin="round"/><path d="M796.0 384.0 L782.07 340.47 A45.7 45.7 0 0 1 796.00 338.30Z" fill="rgba(253,185,51,0.8)" stroke="#fff" stroke-width="1.3" stroke-linejoin="round"/><rect x="750.90" y="281.50" width="7.8" height="7.6" fill="rgba(78,93,157,0.8)"/><text x="762.40" y="288.00" font-family="Liberation Sans" font-size="7.6" fill="#666">&lt; 1m; 2740x, 74.58%</text><rect x="750.90" y="295.20" width="7.8" height="7.6" fill="#42c0a2"/><text x="762.40" y="301.70" font-family="Liberation Sans" font-size="7.6" fill="#666">1 - 5m; 602x, 16.39%</text><rect x="750.90" y="309.00" width="7.8" height="7.6" fill="rgba(253,149,114,0.8)"/><text x="762.40" y="315.50" font-family="Liberation Sans" font-size="7.6" fill="#666">5 - 10m; 151x, 4.11%</text><rect x="752.80" y="322.70" width="7.8" height="7.6" fill="rgba(253,185,51,0.8)"/><text x="764.30" y="329.20" font-family="Liberation Sans" font-size="7.6" fill="#666">&gt; 10m; 181x, 4.93%</text></svg>
</body></html>
